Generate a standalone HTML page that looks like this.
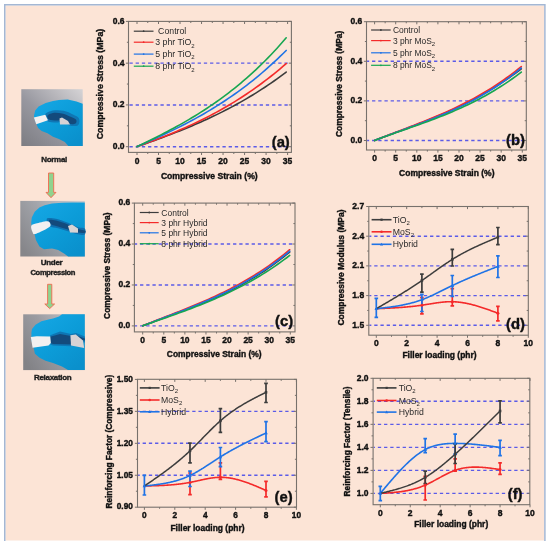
<!DOCTYPE html><html><head><meta charset="utf-8"><style>html,body{margin:0;padding:0;background:#fff;}svg{display:block;will-change:transform;}text{font-family:"Liberation Sans", sans-serif;}</style></head><body>
<svg width="550" height="545" viewBox="0 0 550 545">
<rect x="0" y="0" width="550" height="545" fill="#ffffff"/>
<rect x="5.5" y="5.5" width="538.8" height="535" fill="#fce4d6"/>
<path d="M4.75,541 V4.75 H544.9 V541" fill="none" stroke="#a3b7d4" stroke-width="1.5"/>
<defs><linearGradient id="bg1" x1="0" y1="1" x2="1" y2="0"><stop offset="0" stop-color="#7c7c82"/><stop offset="0.45" stop-color="#9898a0"/><stop offset="1" stop-color="#d6d4d6"/></linearGradient><linearGradient id="bg2" x1="0" y1="0.8" x2="1" y2="0.2"><stop offset="0" stop-color="#86868a"/><stop offset="0.5" stop-color="#a2a4aa"/><stop offset="1" stop-color="#c8c8cc"/></linearGradient><linearGradient id="bg3" x1="0" y1="0.8" x2="1" y2="0.2"><stop offset="0" stop-color="#828286"/><stop offset="0.5" stop-color="#9c9ca2"/><stop offset="1" stop-color="#c4c4ca"/></linearGradient><linearGradient id="gl" x1="0" y1="0" x2="0.8" y2="1"><stop offset="0" stop-color="#16a8e6"/><stop offset="0.55" stop-color="#0c9cd8"/><stop offset="1" stop-color="#0a90cc"/></linearGradient></defs>
<rect x="21.3" y="89.2" width="61.4" height="56.8" fill="url(#bg1)"/>
<path d="M34,115.5 L35.2,110.5 L38.6,106.6 L45.7,103.1 L53,101.1 L58.9,99.9 L67.7,99.6 L76.5,101.4 L82.7,103.7 L82.7,146 L68.3,146 L64.8,142 L58.9,139.1 L53,136.8 L47.5,133.2 L41.6,130.9 L38.1,127.9 L36.3,123.8 L34,118Z" fill="url(#gl)"/>
<path d="M45,114.5 C46,112.77 49.9,111.22 53,110.6 C56.1,109.98 60.27,110.15 63.6,110.8 C66.93,111.45 70.43,113.22 73,114.5 C75.57,115.78 78.17,116.72 79,118.5 C79.83,120.28 79.58,124.05 78,125.2 C76.42,126.35 72,126.27 69.5,125.4 C67,124.53 64.92,120.48 63,120 C61.08,119.52 60.67,122.33 58,122.5 C55.33,122.67 49.17,122.33 47,121 C44.83,119.67 44,116.23 45,114.5Z" fill="#0f76b4"/>
<path d="M47.5,115.5 C48.17,114.42 50.58,113.33 53,113 C55.42,112.67 59.17,112.92 62,113.5 C64.83,114.08 67.67,115.5 70,116.5 C72.33,117.5 75.08,118.33 76,119.5 C76.92,120.67 76.58,122.78 75.5,123.5 C74.42,124.22 71.58,124.47 69.5,123.8 C67.42,123.13 65.08,120.05 63,119.5 C60.92,118.95 59.33,120.5 57,120.5 C54.67,120.5 50.58,120.33 49,119.5 C47.42,118.67 46.83,116.58 47.5,115.5Z" fill="#134a7c"/>
<path d="M59.5,118.5 L62,117.4 L68,121 L70,124.4 L60,124.4Z" fill="#d6d2d4"/>
<path d="M33.8,117.6 L45.3,114.8 L48,120.3 L36.3,124.3Z" fill="#f2f0f0"/>
<rect x="20.3" y="200.9" width="64.5" height="55.6" fill="url(#bg2)"/>
<path d="M31.2,222.4 L31.8,217.6 L34.7,211.8 L39.4,207.6 L44.7,205.3 L52,203.5 L62,202.8 L72,202.6 L84.8,202.6 L84.8,256.5 L68.1,256.5 L64.4,253.8 L58.2,250.1 L52,248.4 L44,249.2 L39.4,246.6 L35.9,240.1 L34.7,234.8 L32,230Z" fill="url(#gl)"/>
<path d="M47,218.5 C48.08,217.3 52.5,218.08 56,218.8 C59.5,219.52 64.33,221.4 68,222.8 C71.67,224.2 75.2,226.25 78,227.2 C80.8,228.15 83.67,227.28 84.8,228.5 C85.93,229.72 85.93,233.55 84.8,234.5 C83.67,235.45 80.8,234.75 78,234.2 C75.2,233.65 71.33,232.18 68,231.2 C64.67,230.22 61.08,229.17 58,228.3 C54.92,227.43 51.33,227.63 49.5,226 C47.67,224.37 45.92,219.7 47,218.5Z" fill="#0e70b0"/>
<path d="M49,220 C49.75,219.33 52.83,219.85 56,220.6 C59.17,221.35 64.33,223.1 68,224.5 C71.67,225.9 75.2,228 78,229 C80.8,230 83.67,229.87 84.8,230.5 C85.93,231.13 85.93,232.45 84.8,232.8 C83.67,233.15 80.8,233.13 78,232.6 C75.2,232.07 71.33,230.6 68,229.6 C64.67,228.6 60.75,227.43 58,226.6 C55.25,225.77 53,225.7 51.5,224.6 C50,223.5 48.25,220.67 49,220Z" fill="#134a7c"/>
<path d="M68,226 L72,224.5 L78,228.5 L78,232.8 L70,232.5Z" fill="#d8d4d4"/>
<path d="M31.2,225.9 C31.78,224.48 33.27,224.28 36,223.5 C38.73,222.72 45.17,220.9 47.6,221.2 C50.03,221.5 50.7,224.08 50.6,225.3 C50.5,226.52 49.57,227.05 47,228.5 C44.43,229.95 37.62,233.42 35.2,234 C32.78,234.58 33.17,233.35 32.5,232 C31.83,230.65 30.62,227.32 31.2,225.9Z" fill="#f2f0f0"/>
<rect x="23.2" y="314.3" width="61.6" height="55.8" fill="url(#bg3)"/>
<path d="M31.4,332.4 L32,328.9 L35.5,324.8 L41.4,321.2 L48.5,319.5 L53,318.4 L59,316.6 L62,314.3 L84.8,314.3 L84.8,370.1 L68,370.1 L62,366.6 L53,363 L45.5,360.8 L39.6,357.8 L34.9,353.7 L33.8,348.4 L31.4,340Z" fill="url(#gl)"/>
<path d="M50.2,335.3 L60,331.5 L71,334 L76,333 L84.8,336.5 L84.8,342.5 L76,341.5 L71,346.2 L53,345.5 L50.5,344.5Z" fill="#0f76b4"/>
<path d="M50.2,336.8 L60,334 L71,336 L76,335.3 L84.8,338.5 L84.8,340.5 L76,339.5 L71,344.5 L53,344 L50.5,343Z" fill="#134a7c"/>
<path d="M70.4,335.2 L75.8,334.6 L83,340.6 L84.2,348 L71,345.6Z" fill="#d6d2d4"/>
<path d="M30.8,337.1 L36.7,336.2 L50.2,336.5 L50.9,343.1 L48.5,345.5 L32.6,347.8Z" fill="#f2f0f0"/>
<text x="54.1" y="162.2" font-size="8" font-weight="bold" text-anchor="middle" fill="#1e1e1e" stroke="#1e1e1e" stroke-width="0.38" letter-spacing="-0.3">Normal</text>
<text x="51.6" y="265.2" font-size="8" font-weight="bold" text-anchor="middle" fill="#1e1e1e" stroke="#1e1e1e" stroke-width="0.38" letter-spacing="-0.3">Under</text>
<text x="52.8" y="275.4" font-size="7.6" font-weight="bold" text-anchor="middle" fill="#1e1e1e" stroke="#1e1e1e" stroke-width="0.38" letter-spacing="-0.35">Compression</text>
<text x="52.7" y="379.7" font-size="8" font-weight="bold" text-anchor="middle" fill="#1e1e1e" stroke="#1e1e1e" stroke-width="0.38" letter-spacing="-0.3">Relaxation</text>
<path d="M48.5,173 H53.7 V192.4 H56 L51,197.7 L46,192.4 H48.5 Z" fill="#8fd38f" stroke="#f06a50" stroke-width="0.9"/>
<path d="M47.6,284.3 H51.8 V304 H54.6 L49.7,308.6 L44.8,304 H47.6 Z" fill="#8fd38f" stroke="#f06a50" stroke-width="0.9"/>
<line x1="129.1" y1="146.7" x2="290.8" y2="146.7" stroke="#5b5be8" stroke-width="1.4" stroke-dasharray="3.3 2.9" stroke-dashoffset="5.85"/>
<line x1="129.1" y1="104.93" x2="290.8" y2="104.93" stroke="#5b5be8" stroke-width="1.4" stroke-dasharray="3.3 2.9" stroke-dashoffset="5.85"/>
<line x1="129.1" y1="63.17" x2="290.8" y2="63.17" stroke="#5b5be8" stroke-width="1.4" stroke-dasharray="3.3 2.9" stroke-dashoffset="5.85"/>
<rect x="128.5" y="21.4" width="162.9" height="131" fill="none" stroke="#77716c" stroke-width="1.1"/>
<path d="M137,152.4 v2.6 M137,21.4 v2.6 M158.51,152.4 v2.6 M158.51,21.4 v2.6 M180.03,152.4 v2.6 M180.03,21.4 v2.6 M201.54,152.4 v2.6 M201.54,21.4 v2.6 M223.06,152.4 v2.6 M223.06,21.4 v2.6 M244.57,152.4 v2.6 M244.57,21.4 v2.6 M266.09,152.4 v2.6 M266.09,21.4 v2.6 M287.6,152.4 v2.6 M287.6,21.4 v2.6 M147.76,152.4 v1.6 M147.76,21.4 v1.6 M169.27,152.4 v1.6 M169.27,21.4 v1.6 M190.79,152.4 v1.6 M190.79,21.4 v1.6 M212.3,152.4 v1.6 M212.3,21.4 v1.6 M233.81,152.4 v1.6 M233.81,21.4 v1.6 M255.33,152.4 v1.6 M255.33,21.4 v1.6 M276.84,152.4 v1.6 M276.84,21.4 v1.6 M128.5,146.7 h-2.6 M291.4,146.7 h-2.6 M128.5,104.93 h-2.6 M291.4,104.93 h-2.6 M128.5,63.17 h-2.6 M291.4,63.17 h-2.6 M128.5,21.4 h-2.6 M291.4,21.4 h-2.6 M128.5,125.82 h-1.6 M291.4,125.82 h-1.6 M128.5,84.05 h-1.6 M291.4,84.05 h-1.6 M128.5,42.28 h-1.6 M291.4,42.28 h-1.6 " stroke="#77716c" stroke-width="1" fill="none"/>
<text x="137" y="163.8" font-size="8.5" font-weight="bold" text-anchor="middle" fill="#111111" stroke="#111111" stroke-width="0.38" >0</text>
<text x="158.51" y="163.8" font-size="8.5" font-weight="bold" text-anchor="middle" fill="#111111" stroke="#111111" stroke-width="0.38" >5</text>
<text x="180.03" y="163.8" font-size="8.5" font-weight="bold" text-anchor="middle" fill="#111111" stroke="#111111" stroke-width="0.38" >10</text>
<text x="201.54" y="163.8" font-size="8.5" font-weight="bold" text-anchor="middle" fill="#111111" stroke="#111111" stroke-width="0.38" >15</text>
<text x="223.06" y="163.8" font-size="8.5" font-weight="bold" text-anchor="middle" fill="#111111" stroke="#111111" stroke-width="0.38" >20</text>
<text x="244.57" y="163.8" font-size="8.5" font-weight="bold" text-anchor="middle" fill="#111111" stroke="#111111" stroke-width="0.38" >25</text>
<text x="266.09" y="163.8" font-size="8.5" font-weight="bold" text-anchor="middle" fill="#111111" stroke="#111111" stroke-width="0.38" >30</text>
<text x="287.6" y="163.8" font-size="8.5" font-weight="bold" text-anchor="middle" fill="#111111" stroke="#111111" stroke-width="0.38" >35</text>
<text x="124.5" y="149.06" font-size="8.5" font-weight="bold" text-anchor="end" fill="#111111" stroke="#111111" stroke-width="0.38" >0.0</text>
<text x="124.5" y="107.29" font-size="8.5" font-weight="bold" text-anchor="end" fill="#111111" stroke="#111111" stroke-width="0.38" >0.2</text>
<text x="124.5" y="65.53" font-size="8.5" font-weight="bold" text-anchor="end" fill="#111111" stroke="#111111" stroke-width="0.38" >0.4</text>
<text x="124.5" y="23.76" font-size="8.5" font-weight="bold" text-anchor="end" fill="#111111" stroke="#111111" stroke-width="0.38" >0.6</text>
<path d="M137,146.6 L140.04,145.54 L143.09,144.47 L146.13,143.4 L149.18,142.32 L152.22,141.23 L155.27,140.13 L158.31,139.02 L161.36,137.9 L164.4,136.77 L167.45,135.62 L170.49,134.46 L173.54,133.29 L176.58,132.1 L179.63,130.89 L182.67,129.67 L185.72,128.43 L188.76,127.17 L191.81,125.89 L194.85,124.59 L197.9,123.27 L200.94,121.93 L203.99,120.57 L207.03,119.18 L210.08,117.76 L213.12,116.33 L216.17,114.86 L219.21,113.37 L222.26,111.85 L225.3,110.3 L228.35,108.73 L231.39,107.12 L234.44,105.48 L237.48,103.81 L240.53,102.11 L243.57,100.37 L246.62,98.6 L249.66,96.79 L252.71,94.95 L255.75,93.07 L258.8,91.16 L261.84,89.2 L264.89,87.21 L267.93,85.17 L270.98,83.1 L274.02,80.98 L277.07,78.82 L280.11,76.61 L283.16,74.37 L286.2,72.07" stroke="#3c3c3c" stroke-width="1.6" fill="none" stroke-linejoin="round" stroke-linecap="round"/>
<path d="M137,146.6 L140.04,145.52 L143.09,144.43 L146.13,143.33 L149.18,142.21 L152.22,141.08 L155.27,139.93 L158.31,138.77 L161.36,137.59 L164.4,136.39 L167.45,135.17 L170.49,133.93 L173.54,132.68 L176.58,131.4 L179.63,130.09 L182.67,128.77 L185.72,127.42 L188.76,126.04 L191.81,124.64 L194.85,123.22 L197.9,121.76 L200.94,120.28 L203.99,118.76 L207.03,117.22 L210.08,115.64 L213.12,114.04 L216.17,112.4 L219.21,110.72 L222.26,109.02 L225.3,107.27 L228.35,105.49 L231.39,103.67 L234.44,101.82 L237.48,99.92 L240.53,97.99 L243.57,96.01 L246.62,93.99 L249.66,91.93 L252.71,89.83 L255.75,87.68 L258.8,85.49 L261.84,83.25 L264.89,80.97 L267.93,78.63 L270.98,76.25 L274.02,73.82 L277.07,71.33 L280.11,68.8 L283.16,66.21 L286.2,63.58" stroke="#f42a2a" stroke-width="1.6" fill="none" stroke-linejoin="round" stroke-linecap="round"/>
<path d="M137,146.6 L140.04,145.28 L143.09,143.95 L146.13,142.61 L149.18,141.26 L152.22,139.89 L155.27,138.51 L158.31,137.12 L161.36,135.71 L164.4,134.29 L167.45,132.84 L170.49,131.38 L173.54,129.9 L176.58,128.39 L179.63,126.86 L182.67,125.31 L185.72,123.74 L188.76,122.14 L191.81,120.51 L194.85,118.85 L197.9,117.16 L200.94,115.45 L203.99,113.7 L207.03,111.92 L210.08,110.1 L213.12,108.25 L216.17,106.37 L219.21,104.44 L222.26,102.48 L225.3,100.48 L228.35,98.44 L231.39,96.36 L234.44,94.23 L237.48,92.06 L240.53,89.85 L243.57,87.59 L246.62,85.28 L249.66,82.92 L252.71,80.51 L255.75,78.06 L258.8,75.55 L261.84,72.99 L264.89,70.37 L267.93,67.7 L270.98,64.97 L274.02,62.19 L277.07,59.35 L280.11,56.44 L283.16,53.48 L286.2,50.46" stroke="#1f73e6" stroke-width="1.6" fill="none" stroke-linejoin="round" stroke-linecap="round"/>
<path d="M137,146.6 L140.04,145.14 L143.09,143.67 L146.13,142.19 L149.18,140.7 L152.22,139.19 L155.27,137.67 L158.31,136.14 L161.36,134.59 L164.4,133.02 L167.45,131.43 L170.49,129.81 L173.54,128.18 L176.58,126.52 L179.63,124.83 L182.67,123.11 L185.72,121.37 L188.76,119.6 L191.81,117.79 L194.85,115.95 L197.9,114.07 L200.94,112.16 L203.99,110.21 L207.03,108.22 L210.08,106.19 L213.12,104.12 L216.17,102 L219.21,99.84 L222.26,97.63 L225.3,95.37 L228.35,93.07 L231.39,90.71 L234.44,88.3 L237.48,85.83 L240.53,83.31 L243.57,80.73 L246.62,78.09 L249.66,75.4 L252.71,72.64 L255.75,69.82 L258.8,66.93 L261.84,63.98 L264.89,60.96 L267.93,57.87 L270.98,54.71 L274.02,51.48 L277.07,48.17 L280.11,44.79 L283.16,41.33 L286.2,37.8" stroke="#17a651" stroke-width="1.6" fill="none" stroke-linejoin="round" stroke-linecap="round"/>
<line x1="133.8" y1="31.2" x2="153.5" y2="31.2" stroke="#3c3c3c" stroke-width="1.2"/>
<circle cx="143.65" cy="31.2" r="0.9" fill="#3c3c3c"/>
<text x="158.1" y="34.3" font-size="8.75" font-weight="normal" text-anchor="start" fill="#2a2a2a" >Control</text>
<line x1="133.8" y1="42.2" x2="153.5" y2="42.2" stroke="#f42a2a" stroke-width="1.2"/>
<circle cx="143.65" cy="42.2" r="0.9" fill="#f42a2a"/>
<text x="155.3" y="45.3" font-size="8.75" font-weight="normal" text-anchor="start" fill="#2a2a2a" >3 phr TiO<tspan font-size="6" dy="2.2">2</tspan></text>
<line x1="133.8" y1="54.1" x2="153.5" y2="54.1" stroke="#1f73e6" stroke-width="1.2"/>
<circle cx="143.65" cy="54.1" r="0.9" fill="#1f73e6"/>
<text x="155.3" y="57.2" font-size="8.75" font-weight="normal" text-anchor="start" fill="#2a2a2a" >5 phr TiO<tspan font-size="6" dy="2.2">2</tspan></text>
<line x1="133.8" y1="66.2" x2="153.5" y2="66.2" stroke="#17a651" stroke-width="1.2"/>
<circle cx="143.65" cy="66.2" r="0.9" fill="#17a651"/>
<text x="155.3" y="69.3" font-size="8.75" font-weight="normal" text-anchor="start" fill="#2a2a2a" >8 phr TiO<tspan font-size="6" dy="2.2">2</tspan></text>
<text x="289.8" y="146.6" font-size="14.8" font-weight="bold" text-anchor="end" fill="#111" stroke="#111" stroke-width="0.38" >(a)</text>
<text x="209.3" y="178.5" font-size="8.65" font-weight="bold" text-anchor="middle" fill="#111111" stroke="#111111" stroke-width="0.38" >Compressive Strain (%)</text>
<text transform="translate(103.2,84) rotate(-90)" font-size="8.75" font-weight="bold" text-anchor="middle" fill="#111111" stroke="#111111" stroke-width="0.38">Compressive Stress (MPa)</text>
<line x1="367.1" y1="140.5" x2="525.7" y2="140.5" stroke="#5b5be8" stroke-width="1.4" stroke-dasharray="3.3 2.9" stroke-dashoffset="1.25"/>
<line x1="367.1" y1="100.9" x2="525.7" y2="100.9" stroke="#5b5be8" stroke-width="1.4" stroke-dasharray="3.3 2.9" stroke-dashoffset="1.25"/>
<line x1="367.1" y1="61.3" x2="525.7" y2="61.3" stroke="#5b5be8" stroke-width="1.4" stroke-dasharray="3.3 2.9" stroke-dashoffset="1.25"/>
<rect x="366.5" y="21.7" width="159.8" height="128.3" fill="none" stroke="#77716c" stroke-width="1.1"/>
<path d="M374.6,150 v2.6 M374.6,21.7 v2.6 M395.7,150 v2.6 M395.7,21.7 v2.6 M416.8,150 v2.6 M416.8,21.7 v2.6 M437.9,150 v2.6 M437.9,21.7 v2.6 M459,150 v2.6 M459,21.7 v2.6 M480.1,150 v2.6 M480.1,21.7 v2.6 M501.2,150 v2.6 M501.2,21.7 v2.6 M522.3,150 v2.6 M522.3,21.7 v2.6 M385.15,150 v1.6 M385.15,21.7 v1.6 M406.25,150 v1.6 M406.25,21.7 v1.6 M427.35,150 v1.6 M427.35,21.7 v1.6 M448.45,150 v1.6 M448.45,21.7 v1.6 M469.55,150 v1.6 M469.55,21.7 v1.6 M490.65,150 v1.6 M490.65,21.7 v1.6 M511.75,150 v1.6 M511.75,21.7 v1.6 M366.5,140.5 h-2.6 M526.3,140.5 h-2.6 M366.5,100.9 h-2.6 M526.3,100.9 h-2.6 M366.5,61.3 h-2.6 M526.3,61.3 h-2.6 M366.5,21.7 h-2.6 M526.3,21.7 h-2.6 M366.5,120.7 h-1.6 M526.3,120.7 h-1.6 M366.5,81.1 h-1.6 M526.3,81.1 h-1.6 M366.5,41.5 h-1.6 M526.3,41.5 h-1.6 " stroke="#77716c" stroke-width="1" fill="none"/>
<text x="374.6" y="161.3" font-size="8.5" font-weight="bold" text-anchor="middle" fill="#111111" stroke="#111111" stroke-width="0.38" >0</text>
<text x="395.7" y="161.3" font-size="8.5" font-weight="bold" text-anchor="middle" fill="#111111" stroke="#111111" stroke-width="0.38" >5</text>
<text x="416.8" y="161.3" font-size="8.5" font-weight="bold" text-anchor="middle" fill="#111111" stroke="#111111" stroke-width="0.38" >10</text>
<text x="437.9" y="161.3" font-size="8.5" font-weight="bold" text-anchor="middle" fill="#111111" stroke="#111111" stroke-width="0.38" >15</text>
<text x="459" y="161.3" font-size="8.5" font-weight="bold" text-anchor="middle" fill="#111111" stroke="#111111" stroke-width="0.38" >20</text>
<text x="480.1" y="161.3" font-size="8.5" font-weight="bold" text-anchor="middle" fill="#111111" stroke="#111111" stroke-width="0.38" >25</text>
<text x="501.2" y="161.3" font-size="8.5" font-weight="bold" text-anchor="middle" fill="#111111" stroke="#111111" stroke-width="0.38" >30</text>
<text x="522.3" y="161.3" font-size="8.5" font-weight="bold" text-anchor="middle" fill="#111111" stroke="#111111" stroke-width="0.38" >35</text>
<text x="362.3" y="142.86" font-size="8.5" font-weight="bold" text-anchor="end" fill="#111111" stroke="#111111" stroke-width="0.38" >0.0</text>
<text x="362.3" y="103.26" font-size="8.5" font-weight="bold" text-anchor="end" fill="#111111" stroke="#111111" stroke-width="0.38" >0.2</text>
<text x="362.3" y="63.66" font-size="8.5" font-weight="bold" text-anchor="end" fill="#111111" stroke="#111111" stroke-width="0.38" >0.4</text>
<text x="362.3" y="24.06" font-size="8.5" font-weight="bold" text-anchor="end" fill="#111111" stroke="#111111" stroke-width="0.38" >0.6</text>
<path d="M374.6,140.4 L377.59,139.27 L380.59,138.15 L383.58,137.04 L386.58,135.93 L389.57,134.82 L392.56,133.71 L395.56,132.6 L398.55,131.49 L401.54,130.38 L404.54,129.26 L407.53,128.14 L410.53,127.01 L413.52,125.88 L416.51,124.73 L419.51,123.57 L422.5,122.41 L425.5,121.22 L428.49,120.03 L431.48,118.82 L434.48,117.59 L437.47,116.34 L440.47,115.08 L443.46,113.79 L446.45,112.48 L449.45,111.15 L452.44,109.79 L455.43,108.4 L458.43,106.99 L461.42,105.55 L464.42,104.08 L467.41,102.58 L470.4,101.05 L473.4,99.48 L476.39,97.88 L479.39,96.24 L482.38,94.56 L485.37,92.85 L488.37,91.09 L491.36,89.3 L494.36,87.46 L497.35,85.57 L500.34,83.64 L503.34,81.67 L506.33,79.64 L509.32,77.57 L512.32,75.44 L515.31,73.27 L518.31,71.04 L521.3,68.75" stroke="#3c3c3c" stroke-width="1.6" fill="none" stroke-linejoin="round" stroke-linecap="round"/>
<path d="M374.6,140.4 L377.59,139.22 L380.59,138.05 L383.58,136.89 L386.58,135.74 L389.57,134.59 L392.56,133.45 L395.56,132.31 L398.55,131.17 L401.54,130.04 L404.54,128.89 L407.53,127.75 L410.53,126.6 L413.52,125.45 L416.51,124.28 L419.51,123.11 L422.5,121.92 L425.5,120.73 L428.49,119.52 L431.48,118.29 L434.48,117.05 L437.47,115.78 L440.47,114.5 L443.46,113.19 L446.45,111.87 L449.45,110.51 L452.44,109.13 L455.43,107.73 L458.43,106.29 L461.42,104.82 L464.42,103.32 L467.41,101.78 L470.4,100.21 L473.4,98.61 L476.39,96.96 L479.39,95.27 L482.38,93.54 L485.37,91.77 L488.37,89.95 L491.36,88.09 L494.36,86.18 L497.35,84.22 L500.34,82.21 L503.34,80.14 L506.33,78.02 L509.32,75.85 L512.32,73.62 L515.31,71.33 L518.31,68.98 L521.3,66.57" stroke="#f42a2a" stroke-width="1.6" fill="none" stroke-linejoin="round" stroke-linecap="round"/>
<path d="M374.6,140.4 L377.59,139.26 L380.59,138.12 L383.58,137 L386.58,135.89 L389.57,134.78 L392.56,133.69 L395.56,132.59 L398.55,131.5 L401.54,130.41 L404.54,129.32 L407.53,128.22 L410.53,127.12 L413.52,126.02 L416.51,124.9 L419.51,123.78 L422.5,122.65 L425.5,121.5 L428.49,120.34 L431.48,119.16 L434.48,117.97 L437.47,116.75 L440.47,115.52 L443.46,114.26 L446.45,112.98 L449.45,111.67 L452.44,110.33 L455.43,108.97 L458.43,107.57 L461.42,106.14 L464.42,104.67 L467.41,103.17 L470.4,101.63 L473.4,100.05 L476.39,98.43 L479.39,96.76 L482.38,95.05 L485.37,93.3 L488.37,91.49 L491.36,89.64 L494.36,87.73 L497.35,85.78 L500.34,83.76 L503.34,81.69 L506.33,79.56 L509.32,77.37 L512.32,75.12 L515.31,72.81 L518.31,70.43 L521.3,67.99" stroke="#1f73e6" stroke-width="1.6" fill="none" stroke-linejoin="round" stroke-linecap="round"/>
<path d="M374.6,140.4 L377.59,139.29 L380.59,138.2 L383.58,137.12 L386.58,136.05 L389.57,134.98 L392.56,133.93 L395.56,132.87 L398.55,131.82 L401.54,130.77 L404.54,129.73 L407.53,128.68 L410.53,127.62 L413.52,126.57 L416.51,125.5 L419.51,124.43 L422.5,123.35 L425.5,122.26 L428.49,121.15 L431.48,120.03 L434.48,118.9 L437.47,117.75 L440.47,116.58 L443.46,115.39 L446.45,114.17 L449.45,112.94 L452.44,111.68 L455.43,110.39 L458.43,109.07 L461.42,107.72 L464.42,106.35 L467.41,104.94 L470.4,103.49 L473.4,102.01 L476.39,100.49 L479.39,98.93 L482.38,97.33 L485.37,95.69 L488.37,94.01 L491.36,92.28 L494.36,90.5 L497.35,88.67 L500.34,86.79 L503.34,84.86 L506.33,82.88 L509.32,80.84 L512.32,78.75 L515.31,76.6 L518.31,74.39 L521.3,72.11" stroke="#17a651" stroke-width="1.6" fill="none" stroke-linejoin="round" stroke-linecap="round"/>
<line x1="371.1" y1="30" x2="390.7" y2="30" stroke="#3c3c3c" stroke-width="1.2"/>
<circle cx="380.9" cy="30" r="0.9" fill="#3c3c3c"/>
<text x="392.9" y="33.1" font-size="8.45" font-weight="normal" text-anchor="start" fill="#2a2a2a" >Control</text>
<line x1="371.1" y1="40.6" x2="390.7" y2="40.6" stroke="#f42a2a" stroke-width="1.2"/>
<circle cx="380.9" cy="40.6" r="0.9" fill="#f42a2a"/>
<text x="392.9" y="43.7" font-size="8.45" font-weight="normal" text-anchor="start" fill="#2a2a2a" >3 phr MoS<tspan font-size="6" dy="2.2">2</tspan></text>
<line x1="371.1" y1="52.8" x2="390.7" y2="52.8" stroke="#1f73e6" stroke-width="1.2"/>
<circle cx="380.9" cy="52.8" r="0.9" fill="#1f73e6"/>
<text x="392.9" y="55.9" font-size="8.45" font-weight="normal" text-anchor="start" fill="#2a2a2a" >5 phr MoS<tspan font-size="6" dy="2.2">2</tspan></text>
<line x1="371.1" y1="65.3" x2="390.7" y2="65.3" stroke="#17a651" stroke-width="1.2"/>
<circle cx="380.9" cy="65.3" r="0.9" fill="#17a651"/>
<text x="392.9" y="68.4" font-size="8.45" font-weight="normal" text-anchor="start" fill="#2a2a2a" >8 phr MoS<tspan font-size="6" dy="2.2">2</tspan></text>
<text x="525" y="145" font-size="14.8" font-weight="bold" text-anchor="end" fill="#111" stroke="#111" stroke-width="0.38" >(b)</text>
<text x="446.8" y="175.8" font-size="8.5" font-weight="bold" text-anchor="middle" fill="#111111" stroke="#111111" stroke-width="0.38" >Compressive Strain (%)</text>
<text transform="translate(341.5,83.9) rotate(-90)" font-size="8.45" font-weight="bold" text-anchor="middle" fill="#111111" stroke="#111111" stroke-width="0.38">Compressive Stress (MPa)</text>
<line x1="135" y1="325.9" x2="294.4" y2="325.9" stroke="#5b5be8" stroke-width="1.4" stroke-dasharray="3.3 2.9" stroke-dashoffset="1.15"/>
<line x1="135" y1="284.97" x2="294.4" y2="284.97" stroke="#5b5be8" stroke-width="1.4" stroke-dasharray="3.3 2.9" stroke-dashoffset="1.15"/>
<line x1="135" y1="244.03" x2="294.4" y2="244.03" stroke="#5b5be8" stroke-width="1.4" stroke-dasharray="3.3 2.9" stroke-dashoffset="1.15"/>
<rect x="134.4" y="203.1" width="160.6" height="128.8" fill="none" stroke="#77716c" stroke-width="1.1"/>
<path d="M142.7,331.9 v2.6 M142.7,203.1 v2.6 M163.79,331.9 v2.6 M163.79,203.1 v2.6 M184.87,331.9 v2.6 M184.87,203.1 v2.6 M205.96,331.9 v2.6 M205.96,203.1 v2.6 M227.04,331.9 v2.6 M227.04,203.1 v2.6 M248.13,331.9 v2.6 M248.13,203.1 v2.6 M269.21,331.9 v2.6 M269.21,203.1 v2.6 M290.3,331.9 v2.6 M290.3,203.1 v2.6 M153.24,331.9 v1.6 M153.24,203.1 v1.6 M174.33,331.9 v1.6 M174.33,203.1 v1.6 M195.41,331.9 v1.6 M195.41,203.1 v1.6 M216.5,331.9 v1.6 M216.5,203.1 v1.6 M237.59,331.9 v1.6 M237.59,203.1 v1.6 M258.67,331.9 v1.6 M258.67,203.1 v1.6 M279.76,331.9 v1.6 M279.76,203.1 v1.6 M134.4,325.9 h-2.6 M295,325.9 h-2.6 M134.4,284.97 h-2.6 M295,284.97 h-2.6 M134.4,244.03 h-2.6 M295,244.03 h-2.6 M134.4,203.1 h-2.6 M295,203.1 h-2.6 M134.4,305.43 h-1.6 M295,305.43 h-1.6 M134.4,264.5 h-1.6 M295,264.5 h-1.6 M134.4,223.57 h-1.6 M295,223.57 h-1.6 " stroke="#77716c" stroke-width="1" fill="none"/>
<text x="142.7" y="343" font-size="8.5" font-weight="bold" text-anchor="middle" fill="#111111" stroke="#111111" stroke-width="0.38" >0</text>
<text x="163.79" y="343" font-size="8.5" font-weight="bold" text-anchor="middle" fill="#111111" stroke="#111111" stroke-width="0.38" >5</text>
<text x="184.87" y="343" font-size="8.5" font-weight="bold" text-anchor="middle" fill="#111111" stroke="#111111" stroke-width="0.38" >10</text>
<text x="205.96" y="343" font-size="8.5" font-weight="bold" text-anchor="middle" fill="#111111" stroke="#111111" stroke-width="0.38" >15</text>
<text x="227.04" y="343" font-size="8.5" font-weight="bold" text-anchor="middle" fill="#111111" stroke="#111111" stroke-width="0.38" >20</text>
<text x="248.13" y="343" font-size="8.5" font-weight="bold" text-anchor="middle" fill="#111111" stroke="#111111" stroke-width="0.38" >25</text>
<text x="269.21" y="343" font-size="8.5" font-weight="bold" text-anchor="middle" fill="#111111" stroke="#111111" stroke-width="0.38" >30</text>
<text x="290.3" y="343" font-size="8.5" font-weight="bold" text-anchor="middle" fill="#111111" stroke="#111111" stroke-width="0.38" >35</text>
<text x="130.3" y="328.26" font-size="8.5" font-weight="bold" text-anchor="end" fill="#111111" stroke="#111111" stroke-width="0.38" >0.0</text>
<text x="130.3" y="287.33" font-size="8.5" font-weight="bold" text-anchor="end" fill="#111111" stroke="#111111" stroke-width="0.38" >0.2</text>
<text x="130.3" y="246.39" font-size="8.5" font-weight="bold" text-anchor="end" fill="#111111" stroke="#111111" stroke-width="0.38" >0.4</text>
<text x="130.3" y="205.46" font-size="8.5" font-weight="bold" text-anchor="end" fill="#111111" stroke="#111111" stroke-width="0.38" >0.6</text>
<path d="M142.7,325.8 L145.7,324.66 L148.7,323.52 L151.7,322.4 L154.7,321.28 L157.7,320.17 L160.7,319.05 L163.7,317.94 L166.7,316.83 L169.7,315.72 L172.7,314.61 L175.7,313.49 L178.7,312.36 L181.7,311.23 L184.7,310.09 L187.7,308.94 L190.7,307.77 L193.7,306.59 L196.7,305.39 L199.7,304.18 L202.7,302.95 L205.7,301.7 L208.7,300.42 L211.7,299.12 L214.7,297.8 L217.7,296.45 L220.7,295.07 L223.7,293.67 L226.7,292.23 L229.7,290.76 L232.7,289.25 L235.7,287.71 L238.7,286.13 L241.7,284.51 L244.7,282.85 L247.7,281.15 L250.7,279.41 L253.7,277.62 L256.7,275.78 L259.7,273.89 L262.7,271.96 L265.7,269.97 L268.7,267.93 L271.7,265.83 L274.7,263.68 L277.7,261.47 L280.7,259.2 L283.7,256.87 L286.7,254.48 L289.7,252.02" stroke="#3c3c3c" stroke-width="1.6" fill="none" stroke-linejoin="round" stroke-linecap="round"/>
<path d="M142.7,325.8 L145.7,324.6 L148.7,323.41 L151.7,322.22 L154.7,321.04 L157.7,319.87 L160.7,318.7 L163.7,317.53 L166.7,316.36 L169.7,315.19 L172.7,314.01 L175.7,312.83 L178.7,311.65 L181.7,310.46 L184.7,309.25 L187.7,308.04 L190.7,306.82 L193.7,305.58 L196.7,304.33 L199.7,303.06 L202.7,301.77 L205.7,300.46 L208.7,299.13 L211.7,297.78 L214.7,296.41 L217.7,295.01 L220.7,293.58 L223.7,292.12 L226.7,290.63 L229.7,289.11 L232.7,287.56 L235.7,285.97 L238.7,284.35 L241.7,282.69 L244.7,280.99 L247.7,279.25 L250.7,277.46 L253.7,275.64 L256.7,273.76 L259.7,271.84 L262.7,269.87 L265.7,267.86 L268.7,265.79 L271.7,263.66 L274.7,261.49 L277.7,259.25 L280.7,256.96 L283.7,254.61 L286.7,252.2 L289.7,249.73" stroke="#f42a2a" stroke-width="1.6" fill="none" stroke-linejoin="round" stroke-linecap="round"/>
<path d="M142.7,325.8 L145.7,324.65 L148.7,323.51 L151.7,322.38 L154.7,321.25 L157.7,320.12 L160.7,319 L163.7,317.87 L166.7,316.75 L169.7,315.62 L172.7,314.49 L175.7,313.35 L178.7,312.21 L181.7,311.05 L184.7,309.89 L187.7,308.71 L190.7,307.53 L193.7,306.32 L196.7,305.1 L199.7,303.87 L202.7,302.61 L205.7,301.33 L208.7,300.03 L211.7,298.71 L214.7,297.36 L217.7,295.99 L220.7,294.58 L223.7,293.15 L226.7,291.69 L229.7,290.19 L232.7,288.66 L235.7,287.1 L238.7,285.49 L241.7,283.85 L244.7,282.17 L247.7,280.45 L250.7,278.68 L253.7,276.87 L256.7,275.01 L259.7,273.11 L262.7,271.15 L265.7,269.15 L268.7,267.09 L271.7,264.98 L274.7,262.82 L277.7,260.6 L280.7,258.32 L283.7,255.98 L286.7,253.58 L289.7,251.11" stroke="#1f73e6" stroke-width="1.6" fill="none" stroke-linejoin="round" stroke-linecap="round"/>
<path d="M142.7,325.8 L145.7,324.74 L148.7,323.69 L151.7,322.64 L154.7,321.6 L157.7,320.55 L160.7,319.5 L163.7,318.44 L166.7,317.39 L169.7,316.32 L172.7,315.26 L175.7,314.18 L178.7,313.09 L181.7,312 L184.7,310.89 L187.7,309.77 L190.7,308.64 L193.7,307.49 L196.7,306.33 L199.7,305.15 L202.7,303.95 L205.7,302.73 L208.7,301.48 L211.7,300.22 L214.7,298.93 L217.7,297.62 L220.7,296.28 L223.7,294.92 L226.7,293.52 L229.7,292.1 L232.7,290.64 L235.7,289.15 L238.7,287.63 L241.7,286.08 L244.7,284.49 L247.7,282.86 L250.7,281.19 L253.7,279.48 L256.7,277.74 L259.7,275.95 L262.7,274.11 L265.7,272.24 L268.7,270.31 L271.7,268.34 L274.7,266.33 L277.7,264.26 L280.7,262.14 L283.7,259.97 L286.7,257.75 L289.7,255.47" stroke="#17a651" stroke-width="1.6" fill="none" stroke-linejoin="round" stroke-linecap="round"/>
<line x1="139.8" y1="212.5" x2="158.7" y2="212.5" stroke="#3c3c3c" stroke-width="1.2"/>
<circle cx="149.25" cy="212.5" r="0.9" fill="#3c3c3c"/>
<text x="161.3" y="215.6" font-size="8.5" font-weight="normal" text-anchor="start" fill="#2a2a2a" >Control</text>
<line x1="139.8" y1="222.6" x2="158.7" y2="222.6" stroke="#f42a2a" stroke-width="1.2"/>
<circle cx="149.25" cy="222.6" r="0.9" fill="#f42a2a"/>
<text x="161.3" y="225.7" font-size="8.5" font-weight="normal" text-anchor="start" fill="#2a2a2a" >3 phr Hybrid</text>
<line x1="139.8" y1="232.8" x2="158.7" y2="232.8" stroke="#1f73e6" stroke-width="1.2"/>
<circle cx="149.25" cy="232.8" r="0.9" fill="#1f73e6"/>
<text x="161.3" y="235.9" font-size="8.5" font-weight="normal" text-anchor="start" fill="#2a2a2a" >5 phr Hybrid</text>
<line x1="139.8" y1="243.7" x2="158.7" y2="243.7" stroke="#17a651" stroke-width="1.2"/>
<circle cx="149.25" cy="243.7" r="0.9" fill="#17a651"/>
<text x="161.3" y="246.8" font-size="8.5" font-weight="normal" text-anchor="start" fill="#2a2a2a" >8 phr Hybrid</text>
<text x="293.2" y="326" font-size="14.8" font-weight="bold" text-anchor="end" fill="#111" stroke="#111" stroke-width="0.38" >(c)</text>
<text x="214.2" y="356.9" font-size="8.45" font-weight="bold" text-anchor="middle" fill="#111111" stroke="#111111" stroke-width="0.38" >Compressive Strain (%)</text>
<text transform="translate(110,265.7) rotate(-90)" font-size="8.45" font-weight="bold" text-anchor="middle" fill="#111111" stroke="#111111" stroke-width="0.38">Compressive Stress (MPa)</text>
<line x1="369.4" y1="325.3" x2="527.7" y2="325.3" stroke="#5b5be8" stroke-width="1.4" stroke-dasharray="3.3 2.9" stroke-dashoffset="1.35"/>
<line x1="369.4" y1="295.6" x2="527.7" y2="295.6" stroke="#5b5be8" stroke-width="1.4" stroke-dasharray="3.3 2.9" stroke-dashoffset="1.35"/>
<line x1="369.4" y1="265.9" x2="527.7" y2="265.9" stroke="#5b5be8" stroke-width="1.4" stroke-dasharray="3.3 2.9" stroke-dashoffset="1.35"/>
<line x1="369.4" y1="236.2" x2="527.7" y2="236.2" stroke="#5b5be8" stroke-width="1.4" stroke-dasharray="3.3 2.9" stroke-dashoffset="1.35"/>
<rect x="368.8" y="206.5" width="159.5" height="128.7" fill="none" stroke="#77716c" stroke-width="1.1"/>
<path d="M376.3,335.2 v2.6 M376.3,206.5 v2.6 M406.7,335.2 v2.6 M406.7,206.5 v2.6 M437.1,335.2 v2.6 M437.1,206.5 v2.6 M467.5,335.2 v2.6 M467.5,206.5 v2.6 M497.9,335.2 v2.6 M497.9,206.5 v2.6 M528.3,335.2 v2.6 M528.3,206.5 v2.6 M391.5,335.2 v1.6 M391.5,206.5 v1.6 M421.9,335.2 v1.6 M421.9,206.5 v1.6 M452.3,335.2 v1.6 M452.3,206.5 v1.6 M482.7,335.2 v1.6 M482.7,206.5 v1.6 M513.1,335.2 v1.6 M513.1,206.5 v1.6 M368.8,325.3 h-2.6 M528.3,325.3 h-2.6 M368.8,295.6 h-2.6 M528.3,295.6 h-2.6 M368.8,265.9 h-2.6 M528.3,265.9 h-2.6 M368.8,236.2 h-2.6 M528.3,236.2 h-2.6 M368.8,206.5 h-2.6 M528.3,206.5 h-2.6 M368.8,310.45 h-1.6 M528.3,310.45 h-1.6 M368.8,280.75 h-1.6 M528.3,280.75 h-1.6 M368.8,251.05 h-1.6 M528.3,251.05 h-1.6 M368.8,221.35 h-1.6 M528.3,221.35 h-1.6 " stroke="#77716c" stroke-width="1" fill="none"/>
<text x="376.3" y="346" font-size="8.5" font-weight="bold" text-anchor="middle" fill="#111111" stroke="#111111" stroke-width="0.38" >0</text>
<text x="406.7" y="346" font-size="8.5" font-weight="bold" text-anchor="middle" fill="#111111" stroke="#111111" stroke-width="0.38" >2</text>
<text x="437.1" y="346" font-size="8.5" font-weight="bold" text-anchor="middle" fill="#111111" stroke="#111111" stroke-width="0.38" >4</text>
<text x="467.5" y="346" font-size="8.5" font-weight="bold" text-anchor="middle" fill="#111111" stroke="#111111" stroke-width="0.38" >6</text>
<text x="497.9" y="346" font-size="8.5" font-weight="bold" text-anchor="middle" fill="#111111" stroke="#111111" stroke-width="0.38" >8</text>
<text x="528.3" y="346" font-size="8.5" font-weight="bold" text-anchor="middle" fill="#111111" stroke="#111111" stroke-width="0.38" >10</text>
<text x="364.2" y="327.66" font-size="8.5" font-weight="bold" text-anchor="end" fill="#111111" stroke="#111111" stroke-width="0.38" >1.5</text>
<text x="364.2" y="297.96" font-size="8.5" font-weight="bold" text-anchor="end" fill="#111111" stroke="#111111" stroke-width="0.38" >1.8</text>
<text x="364.2" y="268.26" font-size="8.5" font-weight="bold" text-anchor="end" fill="#111111" stroke="#111111" stroke-width="0.38" >2.1</text>
<text x="364.2" y="238.56" font-size="8.5" font-weight="bold" text-anchor="end" fill="#111111" stroke="#111111" stroke-width="0.38" >2.4</text>
<text x="364.2" y="208.86" font-size="8.5" font-weight="bold" text-anchor="end" fill="#111111" stroke="#111111" stroke-width="0.38" >2.7</text>
<path d="M376.3,308.7 L377.06,308.67 L377.82,308.64 L378.58,308.6 L379.34,308.57 L380.1,308.54 L380.86,308.51 L381.62,308.48 L382.38,308.44 L383.14,308.41 L383.9,308.37 L384.66,308.34 L385.42,308.31 L386.18,308.27 L386.94,308.23 L387.7,308.2 L388.46,308.16 L389.22,308.12 L389.98,308.09 L390.74,308.05 L391.5,308.01 L392.26,307.96 L393.02,307.92 L393.78,307.88 L394.54,307.84 L395.3,307.79 L396.06,307.74 L396.82,307.7 L397.58,307.65 L398.34,307.6 L399.1,307.55 L399.86,307.5 L400.62,307.44 L401.38,307.39 L402.14,307.33 L402.9,307.27 L403.66,307.21 L404.42,307.15 L405.18,307.09 L405.94,307.02 L406.7,306.96 L407.46,306.89 L408.22,306.82 L408.98,306.75 L409.74,306.67 L410.5,306.6 L411.26,306.52 L412.02,306.44 L412.78,306.36 L413.54,306.28 L414.3,306.19 L415.06,306.1 L415.82,306.01 L416.58,305.92 L417.34,305.82 L418.1,305.73 L418.86,305.63 L419.62,305.52 L420.38,305.42 L421.14,305.31 L421.9,305.2 L422.41,305.13 L422.91,305.05 L423.42,304.97 L423.93,304.89 L424.43,304.82 L424.94,304.74 L425.45,304.66 L425.95,304.58 L426.46,304.49 L426.97,304.41 L427.47,304.33 L427.98,304.25 L428.49,304.17 L428.99,304.08 L429.5,304 L430.01,303.92 L430.51,303.84 L431.02,303.75 L431.53,303.67 L432.03,303.59 L432.54,303.51 L433.05,303.43 L433.55,303.35 L434.06,303.27 L434.57,303.2 L435.07,303.12 L435.58,303.04 L436.09,302.97 L436.59,302.9 L437.1,302.82 L437.61,302.75 L438.11,302.69 L438.62,302.62 L439.13,302.55 L439.63,302.49 L440.14,302.43 L440.65,302.37 L441.15,302.31 L441.66,302.25 L442.17,302.2 L442.67,302.15 L443.18,302.1 L443.69,302.05 L444.19,302 L444.7,301.96 L445.21,301.92 L445.71,301.89 L446.22,301.85 L446.73,301.82 L447.23,301.79 L447.74,301.77 L448.25,301.75 L448.75,301.73 L449.26,301.71 L449.77,301.7 L450.27,301.69 L450.78,301.69 L451.29,301.69 L451.79,301.69 L452.3,301.7 L453.07,301.72 L453.85,301.75 L454.62,301.78 L455.39,301.83 L456.16,301.88 L456.94,301.94 L457.71,302.01 L458.48,302.09 L459.26,302.18 L460.03,302.27 L460.8,302.37 L461.57,302.48 L462.35,302.6 L463.12,302.72 L463.89,302.85 L464.67,302.99 L465.44,303.14 L466.21,303.29 L466.98,303.45 L467.76,303.61 L468.53,303.78 L469.3,303.95 L470.08,304.14 L470.85,304.32 L471.62,304.52 L472.39,304.71 L473.17,304.92 L473.94,305.13 L474.71,305.34 L475.49,305.56 L476.26,305.78 L477.03,306 L477.81,306.23 L478.58,306.47 L479.35,306.71 L480.12,306.95 L480.9,307.2 L481.67,307.45 L482.44,307.7 L483.22,307.95 L483.99,308.21 L484.76,308.47 L485.53,308.74 L486.31,309.01 L487.08,309.27 L487.85,309.55 L488.63,309.82 L489.4,310.09 L490.17,310.37 L490.94,310.65 L491.72,310.93 L492.49,311.21 L493.26,311.49 L494.04,311.78 L494.81,312.06 L495.58,312.34 L496.35,312.63 L497.13,312.91 L497.9,313.2" stroke="#f42a2a" stroke-width="1.6" fill="none" stroke-linejoin="round" stroke-linecap="round"/>
<path d="M376.3,308.7 L377.06,308.62 L377.82,308.53 L378.58,308.45 L379.34,308.36 L380.1,308.27 L380.86,308.19 L381.62,308.1 L382.38,308.01 L383.14,307.92 L383.9,307.83 L384.66,307.74 L385.42,307.65 L386.18,307.56 L386.94,307.46 L387.7,307.37 L388.46,307.27 L389.22,307.17 L389.98,307.07 L390.74,306.97 L391.5,306.86 L392.26,306.75 L393.02,306.64 L393.78,306.53 L394.54,306.42 L395.3,306.3 L396.06,306.18 L396.82,306.06 L397.58,305.93 L398.34,305.8 L399.1,305.67 L399.86,305.53 L400.62,305.4 L401.38,305.25 L402.14,305.11 L402.9,304.96 L403.66,304.8 L404.42,304.65 L405.18,304.49 L405.94,304.32 L406.7,304.15 L407.46,303.98 L408.22,303.8 L408.98,303.62 L409.74,303.43 L410.5,303.24 L411.26,303.04 L412.02,302.84 L412.78,302.63 L413.54,302.42 L414.3,302.2 L415.06,301.97 L415.82,301.75 L416.58,301.51 L417.34,301.27 L418.1,301.02 L418.86,300.77 L419.62,300.51 L420.38,300.25 L421.14,299.98 L421.9,299.7 L422.41,299.51 L422.91,299.32 L423.42,299.13 L423.93,298.93 L424.43,298.73 L424.94,298.53 L425.45,298.32 L425.95,298.12 L426.46,297.91 L426.97,297.69 L427.47,297.48 L427.98,297.26 L428.49,297.05 L428.99,296.83 L429.5,296.6 L430.01,296.38 L430.51,296.15 L431.02,295.93 L431.53,295.7 L432.03,295.46 L432.54,295.23 L433.05,295 L433.55,294.76 L434.06,294.52 L434.57,294.29 L435.07,294.05 L435.58,293.8 L436.09,293.56 L436.59,293.32 L437.1,293.07 L437.61,292.83 L438.11,292.58 L438.62,292.34 L439.13,292.09 L439.63,291.84 L440.14,291.59 L440.65,291.34 L441.15,291.09 L441.66,290.84 L442.17,290.59 L442.67,290.34 L443.18,290.09 L443.69,289.84 L444.19,289.59 L444.7,289.33 L445.21,289.08 L445.71,288.83 L446.22,288.58 L446.73,288.33 L447.23,288.08 L447.74,287.83 L448.25,287.58 L448.75,287.33 L449.26,287.08 L449.77,286.83 L450.27,286.58 L450.78,286.34 L451.29,286.09 L451.79,285.84 L452.3,285.6 L453.07,285.23 L453.85,284.86 L454.62,284.49 L455.39,284.13 L456.16,283.77 L456.94,283.41 L457.71,283.05 L458.48,282.7 L459.26,282.34 L460.03,281.99 L460.8,281.64 L461.57,281.3 L462.35,280.95 L463.12,280.61 L463.89,280.27 L464.67,279.93 L465.44,279.59 L466.21,279.25 L466.98,278.92 L467.76,278.58 L468.53,278.25 L469.3,277.92 L470.08,277.59 L470.85,277.26 L471.62,276.94 L472.39,276.61 L473.17,276.29 L473.94,275.97 L474.71,275.65 L475.49,275.33 L476.26,275.01 L477.03,274.69 L477.81,274.37 L478.58,274.06 L479.35,273.75 L480.12,273.43 L480.9,273.12 L481.67,272.81 L482.44,272.5 L483.22,272.19 L483.99,271.88 L484.76,271.57 L485.53,271.26 L486.31,270.96 L487.08,270.65 L487.85,270.34 L488.63,270.04 L489.4,269.73 L490.17,269.43 L490.94,269.12 L491.72,268.82 L492.49,268.52 L493.26,268.21 L494.04,267.91 L494.81,267.61 L495.58,267.31 L496.35,267 L497.13,266.7 L497.9,266.4" stroke="#1f73e6" stroke-width="1.6" fill="none" stroke-linejoin="round" stroke-linecap="round"/>
<path d="M376.3,308.7 L377.06,308.26 L377.82,307.82 L378.58,307.37 L379.34,306.93 L380.1,306.49 L380.86,306.05 L381.62,305.6 L382.38,305.16 L383.14,304.71 L383.9,304.27 L384.66,303.83 L385.42,303.38 L386.18,302.93 L386.94,302.49 L387.7,302.04 L388.46,301.59 L389.22,301.14 L389.98,300.7 L390.74,300.25 L391.5,299.79 L392.26,299.34 L393.02,298.89 L393.78,298.44 L394.54,297.98 L395.3,297.52 L396.06,297.07 L396.82,296.61 L397.58,296.15 L398.34,295.69 L399.1,295.23 L399.86,294.76 L400.62,294.3 L401.38,293.83 L402.14,293.36 L402.9,292.89 L403.66,292.42 L404.42,291.95 L405.18,291.47 L405.94,291 L406.7,290.52 L407.46,290.04 L408.22,289.56 L408.98,289.07 L409.74,288.59 L410.5,288.1 L411.26,287.61 L412.02,287.12 L412.78,286.62 L413.54,286.12 L414.3,285.62 L415.06,285.12 L415.82,284.62 L416.58,284.11 L417.34,283.61 L418.1,283.09 L418.86,282.58 L419.62,282.06 L420.38,281.55 L421.14,281.02 L421.9,280.5 L422.41,280.15 L422.91,279.8 L423.42,279.44 L423.93,279.09 L424.43,278.73 L424.94,278.38 L425.45,278.02 L425.95,277.66 L426.46,277.3 L426.97,276.94 L427.47,276.58 L427.98,276.22 L428.49,275.86 L428.99,275.5 L429.5,275.14 L430.01,274.78 L430.51,274.41 L431.02,274.05 L431.53,273.69 L432.03,273.32 L432.54,272.96 L433.05,272.6 L433.55,272.23 L434.06,271.87 L434.57,271.51 L435.07,271.15 L435.58,270.78 L436.09,270.42 L436.59,270.06 L437.1,269.7 L437.61,269.34 L438.11,268.98 L438.62,268.62 L439.13,268.26 L439.63,267.91 L440.14,267.55 L440.65,267.19 L441.15,266.84 L441.66,266.48 L442.17,266.13 L442.67,265.78 L443.18,265.43 L443.69,265.08 L444.19,264.73 L444.7,264.39 L445.21,264.04 L445.71,263.7 L446.22,263.36 L446.73,263.02 L447.23,262.68 L447.74,262.34 L448.25,262.01 L448.75,261.67 L449.26,261.34 L449.77,261.01 L450.27,260.69 L450.78,260.36 L451.29,260.04 L451.79,259.72 L452.3,259.4 L453.07,258.92 L453.85,258.44 L454.62,257.97 L455.39,257.51 L456.16,257.05 L456.94,256.59 L457.71,256.14 L458.48,255.7 L459.26,255.26 L460.03,254.82 L460.8,254.39 L461.57,253.96 L462.35,253.54 L463.12,253.12 L463.89,252.71 L464.67,252.3 L465.44,251.89 L466.21,251.49 L466.98,251.09 L467.76,250.7 L468.53,250.3 L469.3,249.92 L470.08,249.53 L470.85,249.15 L471.62,248.77 L472.39,248.4 L473.17,248.03 L473.94,247.66 L474.71,247.29 L475.49,246.93 L476.26,246.57 L477.03,246.21 L477.81,245.86 L478.58,245.51 L479.35,245.15 L480.12,244.81 L480.9,244.46 L481.67,244.12 L482.44,243.77 L483.22,243.43 L483.99,243.1 L484.76,242.76 L485.53,242.42 L486.31,242.09 L487.08,241.76 L487.85,241.43 L488.63,241.1 L489.4,240.77 L490.17,240.44 L490.94,240.11 L491.72,239.79 L492.49,239.46 L493.26,239.14 L494.04,238.81 L494.81,238.49 L495.58,238.17 L496.35,237.85 L497.13,237.52 L497.9,237.2" stroke="#3c3c3c" stroke-width="1.5" fill="none" stroke-linejoin="round" stroke-linecap="round"/>
<path d="M421.9,297.7 V313.8 M420.1,297.7 h3.6 M420.1,313.8 h3.6" stroke="#f42a2a" stroke-width="1.7" fill="none"/>
<path d="M452.3,288.7 V305.9 M450.5,288.7 h3.6 M450.5,305.9 h3.6" stroke="#f42a2a" stroke-width="1.7" fill="none"/>
<path d="M497.9,306.4 V320.9 M496.1,306.4 h3.6 M496.1,320.9 h3.6" stroke="#f42a2a" stroke-width="1.7" fill="none"/>
<path d="M421.9,294.3 V311.5 M420.1,294.3 h3.6 M420.1,311.5 h3.6" stroke="#1f73e6" stroke-width="1.7" fill="none"/>
<path d="M452.3,275.5 V296.3 M450.5,275.5 h3.6 M450.5,296.3 h3.6" stroke="#1f73e6" stroke-width="1.7" fill="none"/>
<path d="M497.9,255.9 V277.5 M496.1,255.9 h3.6 M496.1,277.5 h3.6" stroke="#1f73e6" stroke-width="1.7" fill="none"/>
<path d="M376.3,298.3 V317.3 M374.5,298.3 h3.6 M374.5,317.3 h3.6" stroke="#1f73e6" stroke-width="1.7" fill="none"/>
<path d="M421.9,274.1 V292.2 M420.1,274.1 h3.6 M420.1,292.2 h3.6" stroke="#3c3c3c" stroke-width="1.7" fill="none"/>
<path d="M452.3,249.3 V266 M450.5,249.3 h3.6 M450.5,266 h3.6" stroke="#3c3c3c" stroke-width="1.7" fill="none"/>
<path d="M497.9,227.5 V244.6 M496.1,227.5 h3.6 M496.1,244.6 h3.6" stroke="#3c3c3c" stroke-width="1.7" fill="none"/>
<circle cx="421.9" cy="305.2" r="1.5" fill="#f42a2a"/>
<circle cx="452.3" cy="301.7" r="1.5" fill="#f42a2a"/>
<circle cx="497.9" cy="313.2" r="1.5" fill="#f42a2a"/>
<path d="M421.9,297.88 l1.82,3.12 h-3.64 z" fill="#1f73e6"/>
<path d="M452.3,283.78 l1.82,3.12 h-3.64 z" fill="#1f73e6"/>
<path d="M497.9,264.58 l1.82,3.12 h-3.64 z" fill="#1f73e6"/>
<rect x="420.6" y="279.2" width="2.6" height="2.6" fill="#3c3c3c"/>
<rect x="451" y="258.1" width="2.6" height="2.6" fill="#3c3c3c"/>
<rect x="496.6" y="235.9" width="2.6" height="2.6" fill="#3c3c3c"/>
<path d="M376.3,306.88 l1.82,3.12 h-3.64 z" fill="#1f73e6"/>
<line x1="371.6" y1="219.7" x2="391.5" y2="219.7" stroke="#3c3c3c" stroke-width="1.6"/>
<rect x="380.45" y="218.6" width="2.2" height="2.2" fill="#3c3c3c"/>
<text x="392.8" y="222.8" font-size="8.7" font-weight="normal" text-anchor="start" fill="#2a2a2a" >TiO<tspan font-size="6" dy="2.2">2</tspan></text>
<line x1="371.6" y1="231.8" x2="391.5" y2="231.8" stroke="#f42a2a" stroke-width="1.6"/>
<circle cx="381.55" cy="231.8" r="1.3" fill="#f42a2a"/>
<text x="392.8" y="234.9" font-size="8.7" font-weight="normal" text-anchor="start" fill="#2a2a2a" >MoS<tspan font-size="6" dy="2.2">2</tspan></text>
<line x1="371.6" y1="244.3" x2="391.5" y2="244.3" stroke="#1f73e6" stroke-width="1.6"/>
<path d="M381.55,242.76 l1.54,2.64 h-3.08 z" fill="#1f73e6"/>
<text x="392.8" y="247.4" font-size="8.7" font-weight="normal" text-anchor="start" fill="#2a2a2a" >Hybrid</text>
<text x="525" y="328.8" font-size="14.8" font-weight="bold" text-anchor="end" fill="#111" stroke="#111" stroke-width="0.38" >(d)</text>
<text x="439.5" y="358.4" font-size="8.45" font-weight="bold" text-anchor="middle" fill="#111111" stroke="#111111" stroke-width="0.38" >Filler loading (phr)</text>
<text transform="translate(343.6,267.5) rotate(-90)" font-size="8.5" font-weight="bold" text-anchor="middle" fill="#111111" stroke="#111111" stroke-width="0.38">Compressive Modulus (MPa)</text>
<line x1="138.1" y1="475.25" x2="295.9" y2="475.25" stroke="#5b5be8" stroke-width="1.4" stroke-dasharray="3.3 2.9" stroke-dashoffset="1.65"/>
<line x1="138.1" y1="443.3" x2="295.9" y2="443.3" stroke="#5b5be8" stroke-width="1.4" stroke-dasharray="3.3 2.9" stroke-dashoffset="1.65"/>
<line x1="138.1" y1="411.35" x2="295.9" y2="411.35" stroke="#5b5be8" stroke-width="1.4" stroke-dasharray="3.3 2.9" stroke-dashoffset="1.65"/>
<rect x="137.5" y="379.3" width="159" height="127.9" fill="none" stroke="#77716c" stroke-width="1.1"/>
<path d="M144.4,507.2 v2.6 M144.4,379.3 v2.6 M174.8,507.2 v2.6 M174.8,379.3 v2.6 M205.2,507.2 v2.6 M205.2,379.3 v2.6 M235.6,507.2 v2.6 M235.6,379.3 v2.6 M266,507.2 v2.6 M266,379.3 v2.6 M296.4,507.2 v2.6 M296.4,379.3 v2.6 M159.6,507.2 v1.6 M159.6,379.3 v1.6 M190,507.2 v1.6 M190,379.3 v1.6 M220.4,507.2 v1.6 M220.4,379.3 v1.6 M250.8,507.2 v1.6 M250.8,379.3 v1.6 M281.2,507.2 v1.6 M281.2,379.3 v1.6 M137.5,507.2 h-2.6 M296.5,507.2 h-2.6 M137.5,475.25 h-2.6 M296.5,475.25 h-2.6 M137.5,443.3 h-2.6 M296.5,443.3 h-2.6 M137.5,411.35 h-2.6 M296.5,411.35 h-2.6 M137.5,379.4 h-2.6 M296.5,379.4 h-2.6 M137.5,491.23 h-1.6 M296.5,491.23 h-1.6 M137.5,459.27 h-1.6 M296.5,459.27 h-1.6 M137.5,427.32 h-1.6 M296.5,427.32 h-1.6 M137.5,395.37 h-1.6 M296.5,395.37 h-1.6 " stroke="#77716c" stroke-width="1" fill="none"/>
<text x="144.4" y="518.3" font-size="8.3" font-weight="bold" text-anchor="middle" fill="#111111" stroke="#111111" stroke-width="0.38" >0</text>
<text x="174.8" y="518.3" font-size="8.3" font-weight="bold" text-anchor="middle" fill="#111111" stroke="#111111" stroke-width="0.38" >2</text>
<text x="205.2" y="518.3" font-size="8.3" font-weight="bold" text-anchor="middle" fill="#111111" stroke="#111111" stroke-width="0.38" >4</text>
<text x="235.6" y="518.3" font-size="8.3" font-weight="bold" text-anchor="middle" fill="#111111" stroke="#111111" stroke-width="0.38" >6</text>
<text x="266" y="518.3" font-size="8.3" font-weight="bold" text-anchor="middle" fill="#111111" stroke="#111111" stroke-width="0.38" >8</text>
<text x="296.4" y="518.3" font-size="8.3" font-weight="bold" text-anchor="middle" fill="#111111" stroke="#111111" stroke-width="0.38" >10</text>
<text x="132.9" y="509.49" font-size="8.3" font-weight="bold" text-anchor="end" fill="#111111" stroke="#111111" stroke-width="0.38" >0.90</text>
<text x="132.9" y="477.54" font-size="8.3" font-weight="bold" text-anchor="end" fill="#111111" stroke="#111111" stroke-width="0.38" >1.05</text>
<text x="132.9" y="445.59" font-size="8.3" font-weight="bold" text-anchor="end" fill="#111111" stroke="#111111" stroke-width="0.38" >1.20</text>
<text x="132.9" y="413.64" font-size="8.3" font-weight="bold" text-anchor="end" fill="#111111" stroke="#111111" stroke-width="0.38" >1.35</text>
<text x="132.9" y="381.69" font-size="8.3" font-weight="bold" text-anchor="end" fill="#111111" stroke="#111111" stroke-width="0.38" >1.50</text>
<path d="M144.4,486 L145.16,485.98 L145.92,485.97 L146.68,485.95 L147.44,485.93 L148.2,485.91 L148.96,485.89 L149.72,485.87 L150.48,485.86 L151.24,485.84 L152,485.82 L152.76,485.79 L153.52,485.77 L154.28,485.75 L155.04,485.73 L155.8,485.7 L156.56,485.67 L157.32,485.65 L158.08,485.62 L158.84,485.59 L159.6,485.56 L160.36,485.53 L161.12,485.49 L161.88,485.46 L162.64,485.42 L163.4,485.38 L164.16,485.34 L164.92,485.3 L165.68,485.26 L166.44,485.21 L167.2,485.16 L167.96,485.11 L168.72,485.06 L169.48,485 L170.24,484.95 L171,484.89 L171.76,484.82 L172.52,484.76 L173.28,484.69 L174.04,484.62 L174.8,484.55 L175.56,484.47 L176.32,484.39 L177.08,484.31 L177.84,484.23 L178.6,484.14 L179.36,484.05 L180.12,483.96 L180.88,483.86 L181.64,483.76 L182.4,483.65 L183.16,483.54 L183.92,483.43 L184.68,483.32 L185.44,483.2 L186.2,483.08 L186.96,482.95 L187.72,482.82 L188.48,482.68 L189.24,482.54 L190,482.4 L190.51,482.3 L191.01,482.2 L191.52,482.1 L192.03,482 L192.53,481.89 L193.04,481.79 L193.55,481.68 L194.05,481.57 L194.56,481.46 L195.07,481.35 L195.57,481.24 L196.08,481.13 L196.59,481.02 L197.09,480.91 L197.6,480.8 L198.11,480.68 L198.61,480.57 L199.12,480.46 L199.63,480.35 L200.13,480.23 L200.64,480.12 L201.15,480.01 L201.65,479.9 L202.16,479.79 L202.67,479.68 L203.17,479.57 L203.68,479.47 L204.19,479.36 L204.69,479.26 L205.2,479.15 L205.71,479.05 L206.21,478.95 L206.72,478.85 L207.23,478.76 L207.73,478.66 L208.24,478.57 L208.75,478.48 L209.25,478.4 L209.76,478.31 L210.27,478.23 L210.77,478.15 L211.28,478.07 L211.79,478 L212.29,477.93 L212.8,477.86 L213.31,477.79 L213.81,477.73 L214.32,477.68 L214.83,477.62 L215.33,477.57 L215.84,477.53 L216.35,477.48 L216.85,477.44 L217.36,477.41 L217.87,477.38 L218.37,477.36 L218.88,477.33 L219.39,477.32 L219.89,477.31 L220.4,477.3 L221.17,477.3 L221.95,477.31 L222.72,477.33 L223.49,477.37 L224.26,477.41 L225.04,477.46 L225.81,477.53 L226.58,477.6 L227.36,477.69 L228.13,477.78 L228.9,477.89 L229.67,478 L230.45,478.13 L231.22,478.26 L231.99,478.4 L232.77,478.55 L233.54,478.71 L234.31,478.88 L235.08,479.05 L235.86,479.23 L236.63,479.42 L237.4,479.62 L238.18,479.83 L238.95,480.04 L239.72,480.26 L240.49,480.48 L241.27,480.72 L242.04,480.95 L242.81,481.2 L243.59,481.45 L244.36,481.71 L245.13,481.97 L245.91,482.23 L246.68,482.51 L247.45,482.78 L248.22,483.07 L249,483.35 L249.77,483.64 L250.54,483.94 L251.32,484.24 L252.09,484.54 L252.86,484.85 L253.63,485.15 L254.41,485.47 L255.18,485.78 L255.95,486.1 L256.73,486.42 L257.5,486.75 L258.27,487.07 L259.04,487.4 L259.82,487.73 L260.59,488.06 L261.36,488.39 L262.14,488.72 L262.91,489.06 L263.68,489.39 L264.45,489.73 L265.23,490.06 L266,490.4" stroke="#f42a2a" stroke-width="1.6" fill="none" stroke-linejoin="round" stroke-linecap="round"/>
<path d="M144.4,486 L145.16,485.92 L145.92,485.84 L146.68,485.76 L147.44,485.68 L148.2,485.6 L148.96,485.51 L149.72,485.43 L150.48,485.34 L151.24,485.26 L152,485.17 L152.76,485.08 L153.52,484.99 L154.28,484.9 L155.04,484.8 L155.8,484.71 L156.56,484.61 L157.32,484.51 L158.08,484.4 L158.84,484.3 L159.6,484.19 L160.36,484.07 L161.12,483.96 L161.88,483.83 L162.64,483.71 L163.4,483.58 L164.16,483.45 L164.92,483.32 L165.68,483.18 L166.44,483.03 L167.2,482.88 L167.96,482.73 L168.72,482.57 L169.48,482.41 L170.24,482.24 L171,482.06 L171.76,481.88 L172.52,481.7 L173.28,481.51 L174.04,481.31 L174.8,481.11 L175.56,480.9 L176.32,480.68 L177.08,480.46 L177.84,480.23 L178.6,479.99 L179.36,479.75 L180.12,479.5 L180.88,479.24 L181.64,478.97 L182.4,478.7 L183.16,478.42 L183.92,478.13 L184.68,477.83 L185.44,477.52 L186.2,477.21 L186.96,476.88 L187.72,476.55 L188.48,476.21 L189.24,475.86 L190,475.5 L190.51,475.25 L191.01,475.01 L191.52,474.75 L192.03,474.5 L192.53,474.23 L193.04,473.97 L193.55,473.7 L194.05,473.43 L194.56,473.15 L195.07,472.88 L195.57,472.59 L196.08,472.31 L196.59,472.02 L197.09,471.73 L197.6,471.44 L198.11,471.14 L198.61,470.84 L199.12,470.54 L199.63,470.23 L200.13,469.93 L200.64,469.62 L201.15,469.31 L201.65,469 L202.16,468.68 L202.67,468.37 L203.17,468.05 L203.68,467.73 L204.19,467.41 L204.69,467.08 L205.2,466.76 L205.71,466.43 L206.21,466.11 L206.72,465.78 L207.23,465.45 L207.73,465.12 L208.24,464.79 L208.75,464.46 L209.25,464.13 L209.76,463.8 L210.27,463.46 L210.77,463.13 L211.28,462.8 L211.79,462.47 L212.29,462.13 L212.8,461.8 L213.31,461.47 L213.81,461.14 L214.32,460.81 L214.83,460.48 L215.33,460.15 L215.84,459.82 L216.35,459.49 L216.85,459.16 L217.36,458.83 L217.87,458.51 L218.37,458.18 L218.88,457.86 L219.39,457.54 L219.89,457.22 L220.4,456.9 L221.17,456.42 L221.95,455.94 L222.72,455.46 L223.49,454.99 L224.26,454.53 L225.04,454.06 L225.81,453.6 L226.58,453.15 L227.36,452.7 L228.13,452.25 L228.9,451.8 L229.67,451.36 L230.45,450.92 L231.22,450.48 L231.99,450.05 L232.77,449.62 L233.54,449.19 L234.31,448.77 L235.08,448.35 L235.86,447.93 L236.63,447.51 L237.4,447.1 L238.18,446.69 L238.95,446.28 L239.72,445.87 L240.49,445.47 L241.27,445.07 L242.04,444.67 L242.81,444.27 L243.59,443.88 L244.36,443.48 L245.13,443.09 L245.91,442.7 L246.68,442.31 L247.45,441.93 L248.22,441.54 L249,441.16 L249.77,440.78 L250.54,440.4 L251.32,440.02 L252.09,439.64 L252.86,439.27 L253.63,438.89 L254.41,438.52 L255.18,438.15 L255.95,437.78 L256.73,437.41 L257.5,437.04 L258.27,436.67 L259.04,436.3 L259.82,435.93 L260.59,435.56 L261.36,435.2 L262.14,434.83 L262.91,434.46 L263.68,434.1 L264.45,433.73 L265.23,433.37 L266,433" stroke="#1f73e6" stroke-width="1.6" fill="none" stroke-linejoin="round" stroke-linecap="round"/>
<path d="M144.4,486 L145.16,485.48 L145.92,484.96 L146.68,484.44 L147.44,483.93 L148.2,483.41 L148.96,482.89 L149.72,482.36 L150.48,481.84 L151.24,481.32 L152,480.8 L152.76,480.27 L153.52,479.75 L154.28,479.22 L155.04,478.69 L155.8,478.16 L156.56,477.63 L157.32,477.09 L158.08,476.56 L158.84,476.02 L159.6,475.48 L160.36,474.94 L161.12,474.39 L161.88,473.85 L162.64,473.3 L163.4,472.74 L164.16,472.19 L164.92,471.63 L165.68,471.07 L166.44,470.5 L167.2,469.94 L167.96,469.36 L168.72,468.79 L169.48,468.21 L170.24,467.63 L171,467.04 L171.76,466.45 L172.52,465.86 L173.28,465.26 L174.04,464.66 L174.8,464.05 L175.56,463.44 L176.32,462.82 L177.08,462.2 L177.84,461.57 L178.6,460.94 L179.36,460.31 L180.12,459.67 L180.88,459.02 L181.64,458.37 L182.4,457.71 L183.16,457.05 L183.92,456.38 L184.68,455.7 L185.44,455.02 L186.2,454.33 L186.96,453.64 L187.72,452.94 L188.48,452.23 L189.24,451.52 L190,450.8 L190.51,450.32 L191.01,449.83 L191.52,449.34 L192.03,448.85 L192.53,448.35 L193.04,447.86 L193.55,447.36 L194.05,446.86 L194.56,446.35 L195.07,445.85 L195.57,445.34 L196.08,444.83 L196.59,444.32 L197.09,443.81 L197.6,443.3 L198.11,442.78 L198.61,442.27 L199.12,441.75 L199.63,441.23 L200.13,440.71 L200.64,440.2 L201.15,439.68 L201.65,439.16 L202.16,438.64 L202.67,438.12 L203.17,437.6 L203.68,437.08 L204.19,436.56 L204.69,436.04 L205.2,435.52 L205.71,435 L206.21,434.49 L206.72,433.97 L207.23,433.45 L207.73,432.94 L208.24,432.43 L208.75,431.92 L209.25,431.4 L209.76,430.9 L210.27,430.39 L210.77,429.88 L211.28,429.38 L211.79,428.88 L212.29,428.38 L212.8,427.89 L213.31,427.39 L213.81,426.9 L214.32,426.41 L214.83,425.92 L215.33,425.44 L215.84,424.96 L216.35,424.49 L216.85,424.01 L217.36,423.54 L217.87,423.08 L218.37,422.61 L218.88,422.15 L219.39,421.7 L219.89,421.25 L220.4,420.8 L221.17,420.13 L221.95,419.46 L222.72,418.81 L223.49,418.16 L224.26,417.53 L225.04,416.9 L225.81,416.28 L226.58,415.67 L227.36,415.07 L228.13,414.48 L228.9,413.9 L229.67,413.32 L230.45,412.76 L231.22,412.2 L231.99,411.64 L232.77,411.1 L233.54,410.56 L234.31,410.03 L235.08,409.51 L235.86,408.99 L236.63,408.48 L237.4,407.98 L238.18,407.48 L238.95,406.99 L239.72,406.5 L240.49,406.02 L241.27,405.55 L242.04,405.08 L242.81,404.62 L243.59,404.16 L244.36,403.7 L245.13,403.26 L245.91,402.81 L246.68,402.37 L247.45,401.93 L248.22,401.5 L249,401.08 L249.77,400.65 L250.54,400.23 L251.32,399.81 L252.09,399.4 L252.86,398.99 L253.63,398.58 L254.41,398.17 L255.18,397.77 L255.95,397.37 L256.73,396.97 L257.5,396.58 L258.27,396.18 L259.04,395.79 L259.82,395.4 L260.59,395.01 L261.36,394.62 L262.14,394.23 L262.91,393.84 L263.68,393.46 L264.45,393.07 L265.23,392.69 L266,392.3" stroke="#3c3c3c" stroke-width="1.5" fill="none" stroke-linejoin="round" stroke-linecap="round"/>
<path d="M190,473 V494.6 M188.2,473 h3.6 M188.2,494.6 h3.6" stroke="#f42a2a" stroke-width="1.7" fill="none"/>
<path d="M220.4,462.8 V479.3 M218.6,462.8 h3.6 M218.6,479.3 h3.6" stroke="#f42a2a" stroke-width="1.7" fill="none"/>
<path d="M266,481.3 V496.9 M264.2,481.3 h3.6 M264.2,496.9 h3.6" stroke="#f42a2a" stroke-width="1.7" fill="none"/>
<path d="M190,471.2 V486.5 M188.2,471.2 h3.6 M188.2,486.5 h3.6" stroke="#1f73e6" stroke-width="1.7" fill="none"/>
<path d="M220.4,447.5 V466.6 M218.6,447.5 h3.6 M218.6,466.6 h3.6" stroke="#1f73e6" stroke-width="1.7" fill="none"/>
<path d="M266,421.6 V441.7 M264.2,421.6 h3.6 M264.2,441.7 h3.6" stroke="#1f73e6" stroke-width="1.7" fill="none"/>
<path d="M144.4,475.4 V495 M142.6,475.4 h3.6 M142.6,495 h3.6" stroke="#1f73e6" stroke-width="1.7" fill="none"/>
<path d="M190,443.2 V462.8 M188.2,443.2 h3.6 M188.2,462.8 h3.6" stroke="#3c3c3c" stroke-width="1.7" fill="none"/>
<path d="M220.4,408.6 V432.3 M218.6,408.6 h3.6 M218.6,432.3 h3.6" stroke="#3c3c3c" stroke-width="1.7" fill="none"/>
<path d="M266,383.4 V402.5 M264.2,383.4 h3.6 M264.2,402.5 h3.6" stroke="#3c3c3c" stroke-width="1.7" fill="none"/>
<circle cx="190" cy="482.4" r="1.5" fill="#f42a2a"/>
<circle cx="220.4" cy="477.3" r="1.5" fill="#f42a2a"/>
<circle cx="266" cy="490.4" r="1.5" fill="#f42a2a"/>
<path d="M190,473.68 l1.82,3.12 h-3.64 z" fill="#1f73e6"/>
<path d="M220.4,455.08 l1.82,3.12 h-3.64 z" fill="#1f73e6"/>
<path d="M266,431.18 l1.82,3.12 h-3.64 z" fill="#1f73e6"/>
<rect x="188.7" y="449.5" width="2.6" height="2.6" fill="#3c3c3c"/>
<rect x="219.1" y="419.5" width="2.6" height="2.6" fill="#3c3c3c"/>
<rect x="264.7" y="391" width="2.6" height="2.6" fill="#3c3c3c"/>
<path d="M144.4,484.18 l1.82,3.12 h-3.64 z" fill="#1f73e6"/>
<line x1="139.8" y1="387.9" x2="159.6" y2="387.9" stroke="#3c3c3c" stroke-width="1.6"/>
<rect x="148.6" y="386.8" width="2.2" height="2.2" fill="#3c3c3c"/>
<text x="161" y="391" font-size="8.7" font-weight="normal" text-anchor="start" fill="#2a2a2a" >TiO<tspan font-size="6" dy="2.2">2</tspan></text>
<line x1="139.8" y1="400" x2="159.6" y2="400" stroke="#f42a2a" stroke-width="1.6"/>
<circle cx="149.7" cy="400" r="1.3" fill="#f42a2a"/>
<text x="161" y="403.1" font-size="8.7" font-weight="normal" text-anchor="start" fill="#2a2a2a" >MoS<tspan font-size="6" dy="2.2">2</tspan></text>
<line x1="139.8" y1="411.8" x2="159.6" y2="411.8" stroke="#1f73e6" stroke-width="1.6"/>
<path d="M149.7,410.26 l1.54,2.64 h-3.08 z" fill="#1f73e6"/>
<text x="161" y="414.9" font-size="8.7" font-weight="normal" text-anchor="start" fill="#2a2a2a" >Hybrid</text>
<text x="292.7" y="501.5" font-size="14.8" font-weight="bold" text-anchor="end" fill="#111" stroke="#111" stroke-width="0.38" >(e)</text>
<text x="207.5" y="530.9" font-size="8.45" font-weight="bold" text-anchor="middle" fill="#111111" stroke="#111111" stroke-width="0.38" >Filler loading (phr)</text>
<text transform="translate(112,441.7) rotate(-90)" font-size="8.3" font-weight="bold" text-anchor="middle" fill="#111111" stroke="#111111" stroke-width="0.38">Reinforcing Factor (Compressive)</text>
<line x1="373.7" y1="493.4" x2="529.2" y2="493.4" stroke="#5b5be8" stroke-width="1.4" stroke-dasharray="3.3 2.9" stroke-dashoffset="2.05"/>
<line x1="373.7" y1="470.38" x2="529.2" y2="470.38" stroke="#5b5be8" stroke-width="1.4" stroke-dasharray="3.3 2.9" stroke-dashoffset="2.05"/>
<line x1="373.7" y1="447.36" x2="529.2" y2="447.36" stroke="#5b5be8" stroke-width="1.4" stroke-dasharray="3.3 2.9" stroke-dashoffset="2.05"/>
<line x1="373.7" y1="424.34" x2="529.2" y2="424.34" stroke="#5b5be8" stroke-width="1.4" stroke-dasharray="3.3 2.9" stroke-dashoffset="2.05"/>
<line x1="373.7" y1="401.32" x2="529.2" y2="401.32" stroke="#5b5be8" stroke-width="1.4" stroke-dasharray="3.3 2.9" stroke-dashoffset="2.05"/>
<rect x="373.1" y="378.3" width="156.7" height="126.4" fill="none" stroke="#77716c" stroke-width="1.1"/>
<path d="M380.3,504.7 v2.6 M380.3,378.3 v2.6 M410.24,504.7 v2.6 M410.24,378.3 v2.6 M440.18,504.7 v2.6 M440.18,378.3 v2.6 M470.12,504.7 v2.6 M470.12,378.3 v2.6 M500.06,504.7 v2.6 M500.06,378.3 v2.6 M530,504.7 v2.6 M530,378.3 v2.6 M395.27,504.7 v1.6 M395.27,378.3 v1.6 M425.21,504.7 v1.6 M425.21,378.3 v1.6 M455.15,504.7 v1.6 M455.15,378.3 v1.6 M485.09,504.7 v1.6 M485.09,378.3 v1.6 M515.03,504.7 v1.6 M515.03,378.3 v1.6 M373.1,493.4 h-2.6 M529.8,493.4 h-2.6 M373.1,470.38 h-2.6 M529.8,470.38 h-2.6 M373.1,447.36 h-2.6 M529.8,447.36 h-2.6 M373.1,424.34 h-2.6 M529.8,424.34 h-2.6 M373.1,401.32 h-2.6 M529.8,401.32 h-2.6 M373.1,378.3 h-2.6 M529.8,378.3 h-2.6 M373.1,481.89 h-1.6 M529.8,481.89 h-1.6 M373.1,458.87 h-1.6 M529.8,458.87 h-1.6 M373.1,435.85 h-1.6 M529.8,435.85 h-1.6 M373.1,412.83 h-1.6 M529.8,412.83 h-1.6 M373.1,389.81 h-1.6 M529.8,389.81 h-1.6 " stroke="#77716c" stroke-width="1" fill="none"/>
<text x="380.3" y="516" font-size="8.5" font-weight="bold" text-anchor="middle" fill="#111111" stroke="#111111" stroke-width="0.38" >0</text>
<text x="410.24" y="516" font-size="8.5" font-weight="bold" text-anchor="middle" fill="#111111" stroke="#111111" stroke-width="0.38" >2</text>
<text x="440.18" y="516" font-size="8.5" font-weight="bold" text-anchor="middle" fill="#111111" stroke="#111111" stroke-width="0.38" >4</text>
<text x="470.12" y="516" font-size="8.5" font-weight="bold" text-anchor="middle" fill="#111111" stroke="#111111" stroke-width="0.38" >6</text>
<text x="500.06" y="516" font-size="8.5" font-weight="bold" text-anchor="middle" fill="#111111" stroke="#111111" stroke-width="0.38" >8</text>
<text x="530" y="516" font-size="8.5" font-weight="bold" text-anchor="middle" fill="#111111" stroke="#111111" stroke-width="0.38" >10</text>
<text x="368.6" y="495.76" font-size="8.5" font-weight="bold" text-anchor="end" fill="#111111" stroke="#111111" stroke-width="0.38" >1.0</text>
<text x="368.6" y="472.74" font-size="8.5" font-weight="bold" text-anchor="end" fill="#111111" stroke="#111111" stroke-width="0.38" >1.2</text>
<text x="368.6" y="449.72" font-size="8.5" font-weight="bold" text-anchor="end" fill="#111111" stroke="#111111" stroke-width="0.38" >1.4</text>
<text x="368.6" y="426.7" font-size="8.5" font-weight="bold" text-anchor="end" fill="#111111" stroke="#111111" stroke-width="0.38" >1.6</text>
<text x="368.6" y="403.68" font-size="8.5" font-weight="bold" text-anchor="end" fill="#111111" stroke="#111111" stroke-width="0.38" >1.8</text>
<text x="368.6" y="380.66" font-size="8.5" font-weight="bold" text-anchor="end" fill="#111111" stroke="#111111" stroke-width="0.38" >2.0</text>
<path d="M380.3,493.4 L381.05,493.36 L381.8,493.31 L382.55,493.27 L383.29,493.22 L384.04,493.18 L384.79,493.13 L385.54,493.09 L386.29,493.04 L387.04,492.99 L387.79,492.94 L388.53,492.89 L389.28,492.83 L390.03,492.78 L390.78,492.72 L391.53,492.66 L392.28,492.6 L393.02,492.53 L393.77,492.46 L394.52,492.39 L395.27,492.32 L396.02,492.24 L396.77,492.16 L397.52,492.08 L398.26,491.99 L399.01,491.9 L399.76,491.81 L400.51,491.71 L401.26,491.6 L402.01,491.5 L402.75,491.38 L403.5,491.27 L404.25,491.14 L405,491.02 L405.75,490.88 L406.5,490.75 L407.25,490.6 L407.99,490.46 L408.74,490.3 L409.49,490.14 L410.24,489.97 L410.99,489.8 L411.74,489.62 L412.49,489.43 L413.23,489.24 L413.98,489.04 L414.73,488.83 L415.48,488.62 L416.23,488.4 L416.98,488.17 L417.73,487.93 L418.47,487.69 L419.22,487.43 L419.97,487.17 L420.72,486.9 L421.47,486.62 L422.22,486.34 L422.96,486.04 L423.71,485.74 L424.46,485.42 L425.21,485.1 L425.71,484.88 L426.21,484.65 L426.71,484.43 L427.21,484.19 L427.71,483.96 L428.2,483.72 L428.7,483.48 L429.2,483.23 L429.7,482.98 L430.2,482.73 L430.7,482.48 L431.2,482.22 L431.7,481.96 L432.2,481.7 L432.7,481.44 L433.19,481.17 L433.69,480.91 L434.19,480.64 L434.69,480.37 L435.19,480.1 L435.69,479.83 L436.19,479.56 L436.69,479.29 L437.19,479.02 L437.69,478.74 L438.18,478.47 L438.68,478.2 L439.18,477.93 L439.68,477.65 L440.18,477.38 L440.68,477.11 L441.18,476.84 L441.68,476.57 L442.18,476.31 L442.68,476.04 L443.17,475.77 L443.67,475.51 L444.17,475.25 L444.67,474.99 L445.17,474.73 L445.67,474.48 L446.17,474.23 L446.67,473.98 L447.17,473.73 L447.66,473.49 L448.16,473.25 L448.66,473.01 L449.16,472.77 L449.66,472.54 L450.16,472.32 L450.66,472.1 L451.16,471.88 L451.66,471.66 L452.16,471.45 L452.65,471.25 L453.15,471.05 L453.65,470.85 L454.15,470.66 L454.65,470.48 L455.15,470.3 L455.91,470.04 L456.67,469.79 L457.43,469.55 L458.19,469.33 L458.96,469.11 L459.72,468.91 L460.48,468.72 L461.24,468.55 L462,468.38 L462.76,468.23 L463.52,468.08 L464.28,467.95 L465.05,467.83 L465.81,467.71 L466.57,467.61 L467.33,467.52 L468.09,467.43 L468.85,467.36 L469.61,467.29 L470.37,467.24 L471.13,467.19 L471.9,467.15 L472.66,467.12 L473.42,467.1 L474.18,467.08 L474.94,467.08 L475.7,467.07 L476.46,467.08 L477.22,467.1 L477.99,467.12 L478.75,467.14 L479.51,467.18 L480.27,467.21 L481.03,467.26 L481.79,467.31 L482.55,467.36 L483.31,467.43 L484.08,467.49 L484.84,467.56 L485.6,467.64 L486.36,467.71 L487.12,467.8 L487.88,467.88 L488.64,467.97 L489.4,468.07 L490.16,468.16 L490.93,468.26 L491.69,468.37 L492.45,468.47 L493.21,468.58 L493.97,468.69 L494.73,468.8 L495.49,468.91 L496.25,469.02 L497.02,469.14 L497.78,469.25 L498.54,469.37 L499.3,469.48 L500.06,469.6" stroke="#f42a2a" stroke-width="1.6" fill="none" stroke-linejoin="round" stroke-linecap="round"/>
<path d="M380.3,493.4 L381.05,492.5 L381.8,491.61 L382.55,490.71 L383.29,489.82 L384.04,488.93 L384.79,488.03 L385.54,487.14 L386.29,486.26 L387.04,485.37 L387.79,484.49 L388.53,483.61 L389.28,482.73 L390.03,481.86 L390.78,480.98 L391.53,480.12 L392.28,479.26 L393.02,478.4 L393.77,477.54 L394.52,476.7 L395.27,475.85 L396.02,475.01 L396.77,474.18 L397.52,473.36 L398.26,472.54 L399.01,471.72 L399.76,470.92 L400.51,470.12 L401.26,469.33 L402.01,468.54 L402.75,467.77 L403.5,467 L404.25,466.24 L405,465.49 L405.75,464.75 L406.5,464.02 L407.25,463.3 L407.99,462.59 L408.74,461.89 L409.49,461.2 L410.24,460.51 L410.99,459.85 L411.74,459.19 L412.49,458.54 L413.23,457.91 L413.98,457.29 L414.73,456.68 L415.48,456.08 L416.23,455.49 L416.98,454.92 L417.73,454.37 L418.47,453.82 L419.22,453.29 L419.97,452.78 L420.72,452.28 L421.47,451.79 L422.22,451.32 L422.96,450.87 L423.71,450.43 L424.46,450.01 L425.21,449.6 L425.71,449.34 L426.21,449.08 L426.71,448.84 L427.21,448.6 L427.71,448.36 L428.2,448.14 L428.7,447.92 L429.2,447.7 L429.7,447.5 L430.2,447.3 L430.7,447.1 L431.2,446.92 L431.7,446.73 L432.2,446.56 L432.7,446.39 L433.19,446.23 L433.69,446.07 L434.19,445.92 L434.69,445.77 L435.19,445.63 L435.69,445.5 L436.19,445.37 L436.69,445.24 L437.19,445.12 L437.69,445.01 L438.18,444.9 L438.68,444.79 L439.18,444.69 L439.68,444.6 L440.18,444.51 L440.68,444.42 L441.18,444.34 L441.68,444.26 L442.18,444.19 L442.68,444.12 L443.17,444.05 L443.67,443.99 L444.17,443.93 L444.67,443.88 L445.17,443.83 L445.67,443.78 L446.17,443.74 L446.67,443.69 L447.17,443.66 L447.66,443.62 L448.16,443.59 L448.66,443.56 L449.16,443.53 L449.66,443.51 L450.16,443.49 L450.66,443.47 L451.16,443.46 L451.66,443.44 L452.16,443.43 L452.65,443.42 L453.15,443.41 L453.65,443.41 L454.15,443.4 L454.65,443.4 L455.15,443.4 L455.91,443.4 L456.67,443.41 L457.43,443.42 L458.19,443.43 L458.96,443.44 L459.72,443.46 L460.48,443.48 L461.24,443.51 L462,443.53 L462.76,443.56 L463.52,443.6 L464.28,443.63 L465.05,443.67 L465.81,443.71 L466.57,443.75 L467.33,443.8 L468.09,443.85 L468.85,443.9 L469.61,443.96 L470.37,444.01 L471.13,444.07 L471.9,444.13 L472.66,444.19 L473.42,444.26 L474.18,444.33 L474.94,444.39 L475.7,444.46 L476.46,444.54 L477.22,444.61 L477.99,444.69 L478.75,444.77 L479.51,444.85 L480.27,444.93 L481.03,445.01 L481.79,445.09 L482.55,445.18 L483.31,445.27 L484.08,445.35 L484.84,445.44 L485.6,445.53 L486.36,445.63 L487.12,445.72 L487.88,445.81 L488.64,445.91 L489.4,446 L490.16,446.1 L490.93,446.2 L491.69,446.29 L492.45,446.39 L493.21,446.49 L493.97,446.59 L494.73,446.69 L495.49,446.79 L496.25,446.89 L497.02,446.99 L497.78,447.1 L498.54,447.2 L499.3,447.3 L500.06,447.4" stroke="#1f73e6" stroke-width="1.6" fill="none" stroke-linejoin="round" stroke-linecap="round"/>
<path d="M380.3,493.4 L381.05,493.22 L381.8,493.04 L382.55,492.87 L383.29,492.69 L384.04,492.51 L384.79,492.33 L385.54,492.15 L386.29,491.97 L387.04,491.78 L387.79,491.6 L388.53,491.41 L389.28,491.23 L390.03,491.04 L390.78,490.85 L391.53,490.65 L392.28,490.46 L393.02,490.26 L393.77,490.06 L394.52,489.86 L395.27,489.65 L396.02,489.44 L396.77,489.23 L397.52,489.02 L398.26,488.8 L399.01,488.58 L399.76,488.35 L400.51,488.12 L401.26,487.89 L402.01,487.65 L402.75,487.41 L403.5,487.16 L404.25,486.91 L405,486.65 L405.75,486.39 L406.5,486.13 L407.25,485.85 L407.99,485.58 L408.74,485.3 L409.49,485.01 L410.24,484.71 L410.99,484.42 L411.74,484.11 L412.49,483.8 L413.23,483.48 L413.98,483.16 L414.73,482.82 L415.48,482.49 L416.23,482.14 L416.98,481.79 L417.73,481.43 L418.47,481.06 L419.22,480.69 L419.97,480.31 L420.72,479.91 L421.47,479.52 L422.22,479.11 L422.96,478.7 L423.71,478.27 L424.46,477.84 L425.21,477.4 L425.71,477.1 L426.21,476.8 L426.71,476.49 L427.21,476.18 L427.71,475.87 L428.2,475.55 L428.7,475.23 L429.2,474.9 L429.7,474.58 L430.2,474.24 L430.7,473.91 L431.2,473.57 L431.7,473.23 L432.2,472.88 L432.7,472.53 L433.19,472.18 L433.69,471.82 L434.19,471.46 L434.69,471.1 L435.19,470.74 L435.69,470.37 L436.19,470 L436.69,469.63 L437.19,469.25 L437.69,468.87 L438.18,468.49 L438.68,468.1 L439.18,467.72 L439.68,467.33 L440.18,466.93 L440.68,466.54 L441.18,466.14 L441.68,465.74 L442.18,465.34 L442.68,464.93 L443.17,464.53 L443.67,464.12 L444.17,463.71 L444.67,463.29 L445.17,462.88 L445.67,462.46 L446.17,462.04 L446.67,461.62 L447.17,461.19 L447.66,460.77 L448.16,460.34 L448.66,459.91 L449.16,459.48 L449.66,459.05 L450.16,458.62 L450.66,458.18 L451.16,457.74 L451.66,457.31 L452.16,456.87 L452.65,456.42 L453.15,455.98 L453.65,455.54 L454.15,455.09 L454.65,454.65 L455.15,454.2 L455.91,453.52 L456.67,452.83 L457.43,452.14 L458.19,451.45 L458.96,450.75 L459.72,450.06 L460.48,449.36 L461.24,448.66 L462,447.96 L462.76,447.25 L463.52,446.54 L464.28,445.84 L465.05,445.12 L465.81,444.41 L466.57,443.7 L467.33,442.98 L468.09,442.26 L468.85,441.54 L469.61,440.82 L470.37,440.1 L471.13,439.37 L471.9,438.64 L472.66,437.91 L473.42,437.18 L474.18,436.45 L474.94,435.72 L475.7,434.99 L476.46,434.25 L477.22,433.51 L477.99,432.77 L478.75,432.03 L479.51,431.29 L480.27,430.55 L481.03,429.81 L481.79,429.07 L482.55,428.32 L483.31,427.57 L484.08,426.83 L484.84,426.08 L485.6,425.33 L486.36,424.58 L487.12,423.83 L487.88,423.08 L488.64,422.33 L489.4,421.58 L490.16,420.82 L490.93,420.07 L491.69,419.32 L492.45,418.56 L493.21,417.81 L493.97,417.05 L494.73,416.3 L495.49,415.54 L496.25,414.78 L497.02,414.03 L497.78,413.27 L498.54,412.51 L499.3,411.76 L500.06,411" stroke="#3c3c3c" stroke-width="1.5" fill="none" stroke-linejoin="round" stroke-linecap="round"/>
<path d="M425.21,476.4 V500 M423.41,476.4 h3.6 M423.41,500 h3.6" stroke="#f42a2a" stroke-width="1.7" fill="none"/>
<path d="M455.15,458.8 V471.2 M453.35,458.8 h3.6 M453.35,471.2 h3.6" stroke="#f42a2a" stroke-width="1.7" fill="none"/>
<path d="M500.06,462.8 V474.3 M498.26,462.8 h3.6 M498.26,474.3 h3.6" stroke="#f42a2a" stroke-width="1.7" fill="none"/>
<path d="M425.21,438.7 V452.6 M423.41,438.7 h3.6 M423.41,452.6 h3.6" stroke="#1f73e6" stroke-width="1.7" fill="none"/>
<path d="M455.15,434.1 V454.2 M453.35,434.1 h3.6 M453.35,454.2 h3.6" stroke="#1f73e6" stroke-width="1.7" fill="none"/>
<path d="M500.06,440.3 V455.7 M498.26,440.3 h3.6 M498.26,455.7 h3.6" stroke="#1f73e6" stroke-width="1.7" fill="none"/>
<path d="M380.3,486.4 V500.6 M378.5,486.4 h3.6 M378.5,500.6 h3.6" stroke="#1f73e6" stroke-width="1.7" fill="none"/>
<path d="M425.21,471.2 V483.6 M423.41,471.2 h3.6 M423.41,483.6 h3.6" stroke="#3c3c3c" stroke-width="1.7" fill="none"/>
<path d="M455.15,444 V463.5 M453.35,444 h3.6 M453.35,463.5 h3.6" stroke="#3c3c3c" stroke-width="1.7" fill="none"/>
<path d="M500.06,400.8 V422.9 M498.26,400.8 h3.6 M498.26,422.9 h3.6" stroke="#3c3c3c" stroke-width="1.7" fill="none"/>
<circle cx="425.21" cy="485.1" r="1.5" fill="#f42a2a"/>
<circle cx="455.15" cy="470.3" r="1.5" fill="#f42a2a"/>
<circle cx="500.06" cy="469.6" r="1.5" fill="#f42a2a"/>
<path d="M425.21,447.78 l1.82,3.12 h-3.64 z" fill="#1f73e6"/>
<path d="M455.15,441.58 l1.82,3.12 h-3.64 z" fill="#1f73e6"/>
<path d="M500.06,445.58 l1.82,3.12 h-3.64 z" fill="#1f73e6"/>
<rect x="423.91" y="476.1" width="2.6" height="2.6" fill="#3c3c3c"/>
<rect x="453.85" y="452.9" width="2.6" height="2.6" fill="#3c3c3c"/>
<rect x="498.76" y="409.7" width="2.6" height="2.6" fill="#3c3c3c"/>
<path d="M380.3,491.58 l1.82,3.12 h-3.64 z" fill="#1f73e6"/>
<line x1="376.8" y1="387.9" x2="396.5" y2="387.9" stroke="#3c3c3c" stroke-width="1.6"/>
<rect x="385.55" y="386.8" width="2.2" height="2.2" fill="#3c3c3c"/>
<text x="398.7" y="391" font-size="8.7" font-weight="normal" text-anchor="start" fill="#2a2a2a" >TiO<tspan font-size="6" dy="2.2">2</tspan></text>
<line x1="376.8" y1="400.5" x2="396.5" y2="400.5" stroke="#f42a2a" stroke-width="1.6"/>
<circle cx="386.65" cy="400.5" r="1.3" fill="#f42a2a"/>
<text x="398.7" y="403.6" font-size="8.7" font-weight="normal" text-anchor="start" fill="#2a2a2a" >MoS<tspan font-size="6" dy="2.2">2</tspan></text>
<line x1="376.8" y1="412.1" x2="396.5" y2="412.1" stroke="#1f73e6" stroke-width="1.6"/>
<path d="M386.65,410.56 l1.54,2.64 h-3.08 z" fill="#1f73e6"/>
<text x="398.7" y="415.2" font-size="8.7" font-weight="normal" text-anchor="start" fill="#2a2a2a" >Hybrid</text>
<text x="522.5" y="499" font-size="14.8" font-weight="bold" text-anchor="end" fill="#111" stroke="#111" stroke-width="0.38" >(f)</text>
<text x="451.2" y="527.2" font-size="8.45" font-weight="bold" text-anchor="middle" fill="#111111" stroke="#111111" stroke-width="0.38" >Filler loading (phr)</text>
<text transform="translate(349.5,441.5) rotate(-90)" font-size="8.34" font-weight="bold" text-anchor="middle" fill="#111111" stroke="#111111" stroke-width="0.38">Reinforcing Factor (Tensile)</text>
</svg></body></html>
